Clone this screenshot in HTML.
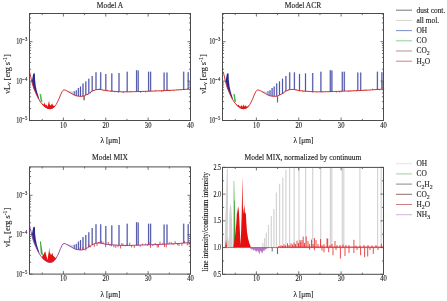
<!DOCTYPE html><html><head><meta charset="utf-8"><style>html,body{margin:0;padding:0;background:#fff;overflow:hidden}svg{display:block;will-change:transform}text{stroke:#1a1a1a;stroke-width:0.12px}</style></head><body><svg width="447" height="301" viewBox="0 0 447 301" font-family='"Liberation Serif", serif' fill="#1a1a1a">
<rect width="447" height="301" fill="#fff" stroke="none"/>
<g transform="translate(0,0)">
<line x1="74.20" y1="95.05" x2="74.20" y2="91.20" stroke="#c4c8e8" stroke-width="1.7"/>
<line x1="74.20" y1="95.05" x2="74.20" y2="91.20" stroke="#2c3090" stroke-width="0.9" stroke-opacity="0.85"/>
<line x1="76.30" y1="95.76" x2="76.30" y2="90.30" stroke="#c4c8e8" stroke-width="1.7"/>
<line x1="76.30" y1="95.76" x2="76.30" y2="90.30" stroke="#2c3090" stroke-width="0.9" stroke-opacity="0.85"/>
<line x1="78.40" y1="96.14" x2="78.40" y2="88.00" stroke="#c4c8e8" stroke-width="1.7"/>
<line x1="78.40" y1="96.14" x2="78.40" y2="88.00" stroke="#2c3090" stroke-width="0.9" stroke-opacity="0.85"/>
<line x1="80.50" y1="96.35" x2="80.50" y2="86.50" stroke="#c4c8e8" stroke-width="1.7"/>
<line x1="80.50" y1="96.35" x2="80.50" y2="86.50" stroke="#2c3090" stroke-width="0.9" stroke-opacity="0.85"/>
<line x1="83.00" y1="96.13" x2="83.00" y2="83.40" stroke="#c4c8e8" stroke-width="1.7"/>
<line x1="83.00" y1="96.13" x2="83.00" y2="83.40" stroke="#2c3090" stroke-width="0.9" stroke-opacity="0.85"/>
<line x1="85.80" y1="95.06" x2="85.80" y2="81.40" stroke="#c4c8e8" stroke-width="1.7"/>
<line x1="85.80" y1="95.06" x2="85.80" y2="81.40" stroke="#2c3090" stroke-width="0.9" stroke-opacity="0.85"/>
<line x1="88.80" y1="93.50" x2="88.80" y2="78.70" stroke="#c4c8e8" stroke-width="1.7"/>
<line x1="88.80" y1="93.50" x2="88.80" y2="78.70" stroke="#2c3090" stroke-width="0.9" stroke-opacity="0.85"/>
<line x1="92.20" y1="91.12" x2="92.20" y2="76.00" stroke="#c4c8e8" stroke-width="1.7"/>
<line x1="92.20" y1="91.12" x2="92.20" y2="76.00" stroke="#2c3090" stroke-width="0.9" stroke-opacity="0.85"/>
<line x1="96.00" y1="89.60" x2="96.00" y2="72.30" stroke="#c4c8e8" stroke-width="1.7"/>
<line x1="96.00" y1="89.60" x2="96.00" y2="72.30" stroke="#2c3090" stroke-width="0.9" stroke-opacity="0.85"/>
<line x1="100.70" y1="89.55" x2="100.70" y2="72.30" stroke="#c4c8e8" stroke-width="1.7"/>
<line x1="100.70" y1="89.55" x2="100.70" y2="72.30" stroke="#2c3090" stroke-width="0.9" stroke-opacity="0.85"/>
<line x1="105.80" y1="90.62" x2="105.80" y2="74.00" stroke="#c4c8e8" stroke-width="1.7"/>
<line x1="105.80" y1="90.62" x2="105.80" y2="74.00" stroke="#2c3090" stroke-width="0.9" stroke-opacity="0.85"/>
<line x1="111.80" y1="91.18" x2="111.80" y2="73.40" stroke="#c4c8e8" stroke-width="1.7"/>
<line x1="111.80" y1="91.18" x2="111.80" y2="73.40" stroke="#2c3090" stroke-width="0.9" stroke-opacity="0.85"/>
<line x1="119.00" y1="91.70" x2="119.00" y2="73.00" stroke="#c4c8e8" stroke-width="1.7"/>
<line x1="119.00" y1="91.70" x2="119.00" y2="73.00" stroke="#2c3090" stroke-width="0.9" stroke-opacity="0.85"/>
<line x1="127.20" y1="91.89" x2="127.20" y2="71.70" stroke="#c4c8e8" stroke-width="1.7"/>
<line x1="127.20" y1="91.89" x2="127.20" y2="71.70" stroke="#2c3090" stroke-width="0.9" stroke-opacity="0.85"/>
<line x1="136.60" y1="91.60" x2="136.60" y2="70.20" stroke="#c4c8e8" stroke-width="1.7"/>
<line x1="136.60" y1="91.60" x2="136.60" y2="70.20" stroke="#2c3090" stroke-width="0.9" stroke-opacity="0.85"/>
<line x1="138.20" y1="91.56" x2="138.20" y2="70.50" stroke="#c4c8e8" stroke-width="1.7"/>
<line x1="138.20" y1="91.56" x2="138.20" y2="70.50" stroke="#2c3090" stroke-width="0.9" stroke-opacity="0.85"/>
<line x1="148.60" y1="91.20" x2="148.60" y2="71.70" stroke="#c4c8e8" stroke-width="1.7"/>
<line x1="148.60" y1="91.20" x2="148.60" y2="71.70" stroke="#2c3090" stroke-width="0.9" stroke-opacity="0.85"/>
<line x1="150.60" y1="91.13" x2="150.60" y2="71.70" stroke="#c4c8e8" stroke-width="1.7"/>
<line x1="150.60" y1="91.13" x2="150.60" y2="71.70" stroke="#2c3090" stroke-width="0.9" stroke-opacity="0.85"/>
<line x1="164.10" y1="90.61" x2="164.10" y2="72.50" stroke="#c4c8e8" stroke-width="1.7"/>
<line x1="164.10" y1="90.61" x2="164.10" y2="72.50" stroke="#2c3090" stroke-width="0.9" stroke-opacity="0.85"/>
<line x1="167.00" y1="90.47" x2="167.00" y2="72.50" stroke="#c4c8e8" stroke-width="1.7"/>
<line x1="167.00" y1="90.47" x2="167.00" y2="72.50" stroke="#2c3090" stroke-width="0.9" stroke-opacity="0.85"/>
<line x1="183.70" y1="89.48" x2="183.70" y2="71.70" stroke="#c4c8e8" stroke-width="1.7"/>
<line x1="183.70" y1="89.48" x2="183.70" y2="71.70" stroke="#2c3090" stroke-width="0.9" stroke-opacity="0.85"/>
<line x1="188.20" y1="89.16" x2="188.20" y2="72.20" stroke="#c4c8e8" stroke-width="1.7"/>
<line x1="188.20" y1="89.16" x2="188.20" y2="72.20" stroke="#2c3090" stroke-width="0.9" stroke-opacity="0.85"/>
<path d="M66,90.46 L70,91.15 L74,91.93 L74,94.93 L70,92.65 Z" fill="#b8c8ee" fill-opacity="0.8"/>
<path d="M31.9,81 L32.6,77 L33.2,74 L34,73.2 L34.9,73.4 L35.1,80 L35.8,86 L36.8,91 L38.5,96.5 L39.5,99.5 L38,98 L35.5,92.5 L33.6,88 L32.4,83.5 Z" fill="#2a2a8e"/>
<path d="M40.6,101.2 L39.6,93.8 L41.1,94.2 L42.5,102.5 Z" fill="#4cb84c"/>
<path d="M42.50,103.60 L43.50,104.80 L44.80,102.80 L45.60,105.50 L46.50,104.60 L47.30,106.80 L48.20,104.20 L49.00,100.70 L49.70,104.50 L50.50,105.60 L51.30,104.80 L52.10,103.30 L53.00,105.60 L54.00,106.00 L55.20,106.00 L56.00,105.30 L55.00,106.45 L54.00,107.60 L52.00,108.87 L50.00,109.14 L48.00,108.90 L46.00,107.90 L44.00,106.40 L42.00,104.47 Z" fill="#e81010"/>
<path d="M29.60,71.80 L30.30,75.00 L31.00,78.00 L32.20,83.00 L33.60,88.00 L35.50,92.50 L38.00,98.00 L41.10,103.00 L44.00,105.80 L46.00,107.30 L48.00,108.30 L50.50,108.60 L52.30,108.20 L54.00,107.00 L56.00,104.70 L57.50,102.00 L59.00,98.80 L60.50,95.00 L62.00,91.80 L63.00,90.40 L64.00,89.90 L65.50,90.20 L68.00,91.50 L72.00,93.80 L75.00,95.50 L78.00,96.10 L81.00,96.40 L84.00,96.00 L88.80,93.50 L92.00,91.20 L96.00,89.60 L100.00,89.40 L105.60,90.60 L112.00,91.20 L119.00,91.70 L127.00,91.90 L140.00,91.50 L160.00,90.80 L175.00,90.10 L190.50,89.00" fill="none" stroke="#d42020" stroke-width="0.9"/>
<line x1="84.1" y1="95.95" x2="84.1" y2="100.2" stroke="#5a3a30" stroke-width="1.1"/>
<line x1="86.00" y1="94.96" x2="86.00" y2="94.96" stroke="#d02020" stroke-width="0.8" stroke-opacity="0.8"/>
<line x1="87.85" y1="94.00" x2="87.85" y2="95.05" stroke="#202070" stroke-width="0.8" stroke-opacity="0.8"/>
<line x1="90.60" y1="92.20" x2="90.60" y2="93.34" stroke="#202070" stroke-width="0.8" stroke-opacity="0.8"/>
<line x1="93.49" y1="90.60" x2="93.49" y2="91.01" stroke="#202070" stroke-width="0.8" stroke-opacity="0.8"/>
<line x1="95.94" y1="89.63" x2="95.94" y2="90.25" stroke="#d02020" stroke-width="0.8" stroke-opacity="0.8"/>
<line x1="99.25" y1="89.44" x2="99.25" y2="88.65" stroke="#202070" stroke-width="0.8" stroke-opacity="0.8"/>
<line x1="101.03" y1="89.62" x2="101.03" y2="89.74" stroke="#d02020" stroke-width="0.8" stroke-opacity="0.8"/>
<line x1="104.00" y1="90.26" x2="104.00" y2="91.07" stroke="#d02020" stroke-width="0.8" stroke-opacity="0.8"/>
<line x1="107.37" y1="90.77" x2="107.37" y2="89.83" stroke="#202070" stroke-width="0.8" stroke-opacity="0.8"/>
<line x1="110.55" y1="91.06" x2="110.55" y2="91.75" stroke="#d02020" stroke-width="0.8" stroke-opacity="0.8"/>
<line x1="112.27" y1="91.22" x2="112.27" y2="90.71" stroke="#202070" stroke-width="0.8" stroke-opacity="0.8"/>
<line x1="114.48" y1="91.38" x2="114.48" y2="92.28" stroke="#202070" stroke-width="0.8" stroke-opacity="0.8"/>
<line x1="118.19" y1="91.64" x2="118.19" y2="92.73" stroke="#202070" stroke-width="0.8" stroke-opacity="0.8"/>
<line x1="120.64" y1="91.74" x2="120.64" y2="91.82" stroke="#202070" stroke-width="0.8" stroke-opacity="0.8"/>
<line x1="123.20" y1="91.81" x2="123.20" y2="92.96" stroke="#202070" stroke-width="0.8" stroke-opacity="0.8"/>
<line x1="126.19" y1="91.88" x2="126.19" y2="91.00" stroke="#d02020" stroke-width="0.8" stroke-opacity="0.8"/>
<line x1="129.93" y1="91.81" x2="129.93" y2="91.14" stroke="#202070" stroke-width="0.8" stroke-opacity="0.8"/>
<line x1="131.64" y1="91.76" x2="131.64" y2="91.96" stroke="#202070" stroke-width="0.8" stroke-opacity="0.8"/>
<line x1="133.35" y1="91.70" x2="133.35" y2="91.80" stroke="#d02020" stroke-width="0.8" stroke-opacity="0.8"/>
<line x1="135.90" y1="91.63" x2="135.90" y2="91.46" stroke="#d02020" stroke-width="0.8" stroke-opacity="0.8"/>
<line x1="137.64" y1="91.57" x2="137.64" y2="91.88" stroke="#202070" stroke-width="0.8" stroke-opacity="0.8"/>
<line x1="140.66" y1="91.48" x2="140.66" y2="92.77" stroke="#202070" stroke-width="0.8" stroke-opacity="0.8"/>
<line x1="143.55" y1="91.38" x2="143.55" y2="91.75" stroke="#202070" stroke-width="0.8" stroke-opacity="0.8"/>
<line x1="145.72" y1="91.30" x2="145.72" y2="92.69" stroke="#d02020" stroke-width="0.8" stroke-opacity="0.8"/>
<line x1="147.52" y1="91.24" x2="147.52" y2="91.87" stroke="#d02020" stroke-width="0.8" stroke-opacity="0.8"/>
<line x1="149.61" y1="91.16" x2="149.61" y2="91.55" stroke="#202070" stroke-width="0.8" stroke-opacity="0.8"/>
<line x1="152.03" y1="91.08" x2="152.03" y2="91.63" stroke="#d02020" stroke-width="0.8" stroke-opacity="0.8"/>
<line x1="155.46" y1="90.96" x2="155.46" y2="89.98" stroke="#d02020" stroke-width="0.8" stroke-opacity="0.8"/>
<line x1="159.12" y1="90.83" x2="159.12" y2="91.15" stroke="#d02020" stroke-width="0.8" stroke-opacity="0.8"/>
<line x1="161.63" y1="90.72" x2="161.63" y2="92.09" stroke="#d02020" stroke-width="0.8" stroke-opacity="0.8"/>
<line x1="163.17" y1="90.65" x2="163.17" y2="91.53" stroke="#d02020" stroke-width="0.8" stroke-opacity="0.8"/>
<line x1="165.76" y1="90.53" x2="165.76" y2="89.89" stroke="#d02020" stroke-width="0.8" stroke-opacity="0.8"/>
<line x1="168.07" y1="90.42" x2="168.07" y2="89.45" stroke="#d02020" stroke-width="0.8" stroke-opacity="0.8"/>
<line x1="169.83" y1="90.34" x2="169.83" y2="91.18" stroke="#202070" stroke-width="0.8" stroke-opacity="0.8"/>
<line x1="173.28" y1="90.18" x2="173.28" y2="91.08" stroke="#d02020" stroke-width="0.8" stroke-opacity="0.8"/>
<line x1="176.55" y1="89.99" x2="176.55" y2="89.44" stroke="#d02020" stroke-width="0.8" stroke-opacity="0.8"/>
<line x1="179.12" y1="89.81" x2="179.12" y2="89.21" stroke="#d02020" stroke-width="0.8" stroke-opacity="0.8"/>
<line x1="181.62" y1="89.63" x2="181.62" y2="89.40" stroke="#d02020" stroke-width="0.8" stroke-opacity="0.8"/>
<line x1="184.04" y1="89.46" x2="184.04" y2="89.99" stroke="#202070" stroke-width="0.8" stroke-opacity="0.8"/>
<line x1="187.65" y1="89.20" x2="187.65" y2="88.68" stroke="#202070" stroke-width="0.8" stroke-opacity="0.8"/>
</g>
<g transform="translate(193.7,0)">
<line x1="74.20" y1="95.05" x2="74.20" y2="91.20" stroke="#c4c8e8" stroke-width="1.7"/>
<line x1="74.20" y1="95.05" x2="74.20" y2="91.20" stroke="#2c3090" stroke-width="0.9" stroke-opacity="0.85"/>
<line x1="76.30" y1="95.76" x2="76.30" y2="90.30" stroke="#c4c8e8" stroke-width="1.7"/>
<line x1="76.30" y1="95.76" x2="76.30" y2="90.30" stroke="#2c3090" stroke-width="0.9" stroke-opacity="0.85"/>
<line x1="78.40" y1="96.14" x2="78.40" y2="88.00" stroke="#c4c8e8" stroke-width="1.7"/>
<line x1="78.40" y1="96.14" x2="78.40" y2="88.00" stroke="#2c3090" stroke-width="0.9" stroke-opacity="0.85"/>
<line x1="80.50" y1="96.35" x2="80.50" y2="86.50" stroke="#c4c8e8" stroke-width="1.7"/>
<line x1="80.50" y1="96.35" x2="80.50" y2="86.50" stroke="#2c3090" stroke-width="0.9" stroke-opacity="0.85"/>
<line x1="83.00" y1="96.13" x2="83.00" y2="83.40" stroke="#c4c8e8" stroke-width="1.7"/>
<line x1="83.00" y1="96.13" x2="83.00" y2="83.40" stroke="#2c3090" stroke-width="0.9" stroke-opacity="0.85"/>
<line x1="85.80" y1="95.06" x2="85.80" y2="81.40" stroke="#c4c8e8" stroke-width="1.7"/>
<line x1="85.80" y1="95.06" x2="85.80" y2="81.40" stroke="#2c3090" stroke-width="0.9" stroke-opacity="0.85"/>
<line x1="88.80" y1="93.50" x2="88.80" y2="78.70" stroke="#c4c8e8" stroke-width="1.7"/>
<line x1="88.80" y1="93.50" x2="88.80" y2="78.70" stroke="#2c3090" stroke-width="0.9" stroke-opacity="0.85"/>
<line x1="92.20" y1="91.12" x2="92.20" y2="76.00" stroke="#c4c8e8" stroke-width="1.7"/>
<line x1="92.20" y1="91.12" x2="92.20" y2="76.00" stroke="#2c3090" stroke-width="0.9" stroke-opacity="0.85"/>
<line x1="96.00" y1="89.60" x2="96.00" y2="72.30" stroke="#c4c8e8" stroke-width="1.7"/>
<line x1="96.00" y1="89.60" x2="96.00" y2="72.30" stroke="#2c3090" stroke-width="0.9" stroke-opacity="0.85"/>
<line x1="100.70" y1="89.55" x2="100.70" y2="72.30" stroke="#c4c8e8" stroke-width="1.7"/>
<line x1="100.70" y1="89.55" x2="100.70" y2="72.30" stroke="#2c3090" stroke-width="0.9" stroke-opacity="0.85"/>
<line x1="105.80" y1="90.62" x2="105.80" y2="74.00" stroke="#c4c8e8" stroke-width="1.7"/>
<line x1="105.80" y1="90.62" x2="105.80" y2="74.00" stroke="#2c3090" stroke-width="0.9" stroke-opacity="0.85"/>
<line x1="111.80" y1="91.18" x2="111.80" y2="73.40" stroke="#c4c8e8" stroke-width="1.7"/>
<line x1="111.80" y1="91.18" x2="111.80" y2="73.40" stroke="#2c3090" stroke-width="0.9" stroke-opacity="0.85"/>
<line x1="119.00" y1="91.70" x2="119.00" y2="73.00" stroke="#c4c8e8" stroke-width="1.7"/>
<line x1="119.00" y1="91.70" x2="119.00" y2="73.00" stroke="#2c3090" stroke-width="0.9" stroke-opacity="0.85"/>
<line x1="127.20" y1="91.89" x2="127.20" y2="71.70" stroke="#c4c8e8" stroke-width="1.7"/>
<line x1="127.20" y1="91.89" x2="127.20" y2="71.70" stroke="#2c3090" stroke-width="0.9" stroke-opacity="0.85"/>
<line x1="136.60" y1="91.60" x2="136.60" y2="70.20" stroke="#c4c8e8" stroke-width="1.7"/>
<line x1="136.60" y1="91.60" x2="136.60" y2="70.20" stroke="#2c3090" stroke-width="0.9" stroke-opacity="0.85"/>
<line x1="138.20" y1="91.56" x2="138.20" y2="70.50" stroke="#c4c8e8" stroke-width="1.7"/>
<line x1="138.20" y1="91.56" x2="138.20" y2="70.50" stroke="#2c3090" stroke-width="0.9" stroke-opacity="0.85"/>
<line x1="148.60" y1="91.20" x2="148.60" y2="71.70" stroke="#c4c8e8" stroke-width="1.7"/>
<line x1="148.60" y1="91.20" x2="148.60" y2="71.70" stroke="#2c3090" stroke-width="0.9" stroke-opacity="0.85"/>
<line x1="150.60" y1="91.13" x2="150.60" y2="71.70" stroke="#c4c8e8" stroke-width="1.7"/>
<line x1="150.60" y1="91.13" x2="150.60" y2="71.70" stroke="#2c3090" stroke-width="0.9" stroke-opacity="0.85"/>
<line x1="164.10" y1="90.61" x2="164.10" y2="72.50" stroke="#c4c8e8" stroke-width="1.7"/>
<line x1="164.10" y1="90.61" x2="164.10" y2="72.50" stroke="#2c3090" stroke-width="0.9" stroke-opacity="0.85"/>
<line x1="167.00" y1="90.47" x2="167.00" y2="72.50" stroke="#c4c8e8" stroke-width="1.7"/>
<line x1="167.00" y1="90.47" x2="167.00" y2="72.50" stroke="#2c3090" stroke-width="0.9" stroke-opacity="0.85"/>
<line x1="183.70" y1="89.48" x2="183.70" y2="71.70" stroke="#c4c8e8" stroke-width="1.7"/>
<line x1="183.70" y1="89.48" x2="183.70" y2="71.70" stroke="#2c3090" stroke-width="0.9" stroke-opacity="0.85"/>
<line x1="188.20" y1="89.16" x2="188.20" y2="72.20" stroke="#c4c8e8" stroke-width="1.7"/>
<line x1="188.20" y1="89.16" x2="188.20" y2="72.20" stroke="#2c3090" stroke-width="0.9" stroke-opacity="0.85"/>
<path d="M66,90.46 L70,91.15 L74,91.93 L74,94.93 L70,92.65 Z" fill="#b8c8ee" fill-opacity="0.8"/>
<path d="M31.9,81 L32.6,77 L33.2,74 L34,73.2 L34.9,73.4 L35.1,80 L35.8,86 L36.8,91 L38.5,96.5 L39.5,99.5 L38,98 L35.5,92.5 L33.6,88 L32.4,83.5 Z" fill="#2a2a8e"/>
<path d="M40.6,101.2 L39.6,93.8 L41.1,94.2 L42.5,102.5 Z" fill="#4cb84c"/>
<path d="M42.50,104.20 L44.00,105.80 L45.00,104.60 L46.00,106.60 L47.00,106.50 L48.00,105.00 L49.00,107.00 L50.00,104.20 L51.00,106.80 L52.00,105.20 L53.00,106.80 L54.50,106.50 L55.50,105.30 L56.00,105.30 L55.00,106.45 L54.00,107.60 L52.00,108.87 L50.00,109.14 L48.00,108.90 L46.00,107.90 L44.00,106.40 L42.00,104.47 Z" fill="#e81010"/>
<path d="M29.60,71.80 L30.30,75.00 L31.00,78.00 L32.20,83.00 L33.60,88.00 L35.50,92.50 L38.00,98.00 L41.10,103.00 L44.00,105.80 L46.00,107.30 L48.00,108.30 L50.50,108.60 L52.30,108.20 L54.00,107.00 L56.00,104.70 L57.50,102.00 L59.00,98.80 L60.50,95.00 L62.00,91.80 L63.00,90.40 L64.00,89.90 L65.50,90.20 L68.00,91.50 L72.00,93.80 L75.00,95.50 L78.00,96.10 L81.00,96.40 L84.00,96.00 L88.80,93.50 L92.00,91.20 L96.00,89.60 L100.00,89.40 L105.60,90.60 L112.00,91.20 L119.00,91.70 L127.00,91.90 L140.00,91.50 L160.00,90.80 L175.00,90.10 L190.50,89.00" fill="none" stroke="#d42020" stroke-width="0.9"/>
<line x1="83.8" y1="96.03" x2="83.8" y2="102.5" stroke="#806060" stroke-width="1.2"/>
<line x1="86.00" y1="94.96" x2="86.00" y2="94.43" stroke="#d02020" stroke-width="0.8" stroke-opacity="0.8"/>
<line x1="89.21" y1="93.21" x2="89.21" y2="94.21" stroke="#202070" stroke-width="0.8" stroke-opacity="0.8"/>
<line x1="91.29" y1="91.71" x2="91.29" y2="90.90" stroke="#202070" stroke-width="0.8" stroke-opacity="0.8"/>
<line x1="94.62" y1="90.15" x2="94.62" y2="89.29" stroke="#d02020" stroke-width="0.8" stroke-opacity="0.8"/>
<line x1="96.66" y1="89.57" x2="96.66" y2="89.13" stroke="#d02020" stroke-width="0.8" stroke-opacity="0.8"/>
<line x1="100.25" y1="89.45" x2="100.25" y2="89.84" stroke="#202070" stroke-width="0.8" stroke-opacity="0.8"/>
<line x1="102.44" y1="89.92" x2="102.44" y2="89.10" stroke="#d02020" stroke-width="0.8" stroke-opacity="0.8"/>
<line x1="105.96" y1="90.63" x2="105.96" y2="91.53" stroke="#d02020" stroke-width="0.8" stroke-opacity="0.8"/>
<line x1="109.33" y1="90.95" x2="109.33" y2="92.22" stroke="#d02020" stroke-width="0.8" stroke-opacity="0.8"/>
<line x1="111.47" y1="91.15" x2="111.47" y2="92.16" stroke="#d02020" stroke-width="0.8" stroke-opacity="0.8"/>
<line x1="114.86" y1="91.40" x2="114.86" y2="91.67" stroke="#d02020" stroke-width="0.8" stroke-opacity="0.8"/>
<line x1="117.27" y1="91.58" x2="117.27" y2="91.49" stroke="#d02020" stroke-width="0.8" stroke-opacity="0.8"/>
<line x1="119.06" y1="91.70" x2="119.06" y2="92.63" stroke="#d02020" stroke-width="0.8" stroke-opacity="0.8"/>
<line x1="123.02" y1="91.80" x2="123.02" y2="92.40" stroke="#d02020" stroke-width="0.8" stroke-opacity="0.8"/>
<line x1="126.39" y1="91.88" x2="126.39" y2="91.04" stroke="#d02020" stroke-width="0.8" stroke-opacity="0.8"/>
<line x1="129.00" y1="91.84" x2="129.00" y2="91.10" stroke="#202070" stroke-width="0.8" stroke-opacity="0.8"/>
<line x1="131.81" y1="91.75" x2="131.81" y2="91.21" stroke="#d02020" stroke-width="0.8" stroke-opacity="0.8"/>
<line x1="134.82" y1="91.66" x2="134.82" y2="91.49" stroke="#202070" stroke-width="0.8" stroke-opacity="0.8"/>
<line x1="137.55" y1="91.58" x2="137.55" y2="90.99" stroke="#202070" stroke-width="0.8" stroke-opacity="0.8"/>
<line x1="139.54" y1="91.51" x2="139.54" y2="91.27" stroke="#202070" stroke-width="0.8" stroke-opacity="0.8"/>
<line x1="142.67" y1="91.41" x2="142.67" y2="92.69" stroke="#d02020" stroke-width="0.8" stroke-opacity="0.8"/>
<line x1="145.96" y1="91.29" x2="145.96" y2="92.52" stroke="#202070" stroke-width="0.8" stroke-opacity="0.8"/>
<line x1="147.82" y1="91.23" x2="147.82" y2="92.12" stroke="#d02020" stroke-width="0.8" stroke-opacity="0.8"/>
<line x1="150.91" y1="91.12" x2="150.91" y2="90.33" stroke="#d02020" stroke-width="0.8" stroke-opacity="0.8"/>
<line x1="154.58" y1="90.99" x2="154.58" y2="92.09" stroke="#d02020" stroke-width="0.8" stroke-opacity="0.8"/>
<line x1="156.59" y1="90.92" x2="156.59" y2="91.94" stroke="#d02020" stroke-width="0.8" stroke-opacity="0.8"/>
<line x1="159.88" y1="90.80" x2="159.88" y2="89.96" stroke="#d02020" stroke-width="0.8" stroke-opacity="0.8"/>
<line x1="162.89" y1="90.67" x2="162.89" y2="91.34" stroke="#202070" stroke-width="0.8" stroke-opacity="0.8"/>
<line x1="165.94" y1="90.52" x2="165.94" y2="90.83" stroke="#d02020" stroke-width="0.8" stroke-opacity="0.8"/>
<line x1="168.33" y1="90.41" x2="168.33" y2="91.10" stroke="#d02020" stroke-width="0.8" stroke-opacity="0.8"/>
<line x1="170.57" y1="90.31" x2="170.57" y2="89.53" stroke="#d02020" stroke-width="0.8" stroke-opacity="0.8"/>
<line x1="172.35" y1="90.22" x2="172.35" y2="89.61" stroke="#202070" stroke-width="0.8" stroke-opacity="0.8"/>
<line x1="175.46" y1="90.07" x2="175.46" y2="90.31" stroke="#d02020" stroke-width="0.8" stroke-opacity="0.8"/>
<line x1="177.06" y1="89.95" x2="177.06" y2="89.90" stroke="#d02020" stroke-width="0.8" stroke-opacity="0.8"/>
<line x1="178.79" y1="89.83" x2="178.79" y2="88.64" stroke="#d02020" stroke-width="0.8" stroke-opacity="0.8"/>
<line x1="180.59" y1="89.70" x2="180.59" y2="89.29" stroke="#202070" stroke-width="0.8" stroke-opacity="0.8"/>
<line x1="183.59" y1="89.49" x2="183.59" y2="88.49" stroke="#d02020" stroke-width="0.8" stroke-opacity="0.8"/>
<line x1="186.00" y1="89.32" x2="186.00" y2="90.29" stroke="#202070" stroke-width="0.8" stroke-opacity="0.8"/>
<line x1="188.34" y1="89.15" x2="188.34" y2="89.24" stroke="#d02020" stroke-width="0.8" stroke-opacity="0.8"/>
</g>
<g transform="translate(0,153.6)">
<line x1="74.20" y1="95.05" x2="74.20" y2="91.20" stroke="#c4c8e8" stroke-width="1.7"/>
<line x1="74.20" y1="95.05" x2="74.20" y2="91.20" stroke="#2c3090" stroke-width="0.9" stroke-opacity="0.85"/>
<line x1="76.30" y1="95.76" x2="76.30" y2="90.30" stroke="#c4c8e8" stroke-width="1.7"/>
<line x1="76.30" y1="95.76" x2="76.30" y2="90.30" stroke="#2c3090" stroke-width="0.9" stroke-opacity="0.85"/>
<line x1="78.40" y1="96.14" x2="78.40" y2="88.00" stroke="#c4c8e8" stroke-width="1.7"/>
<line x1="78.40" y1="96.14" x2="78.40" y2="88.00" stroke="#2c3090" stroke-width="0.9" stroke-opacity="0.85"/>
<line x1="80.50" y1="96.35" x2="80.50" y2="86.50" stroke="#c4c8e8" stroke-width="1.7"/>
<line x1="80.50" y1="96.35" x2="80.50" y2="86.50" stroke="#2c3090" stroke-width="0.9" stroke-opacity="0.85"/>
<line x1="83.00" y1="96.13" x2="83.00" y2="83.40" stroke="#c4c8e8" stroke-width="1.7"/>
<line x1="83.00" y1="96.13" x2="83.00" y2="83.40" stroke="#2c3090" stroke-width="0.9" stroke-opacity="0.85"/>
<line x1="85.80" y1="95.06" x2="85.80" y2="81.40" stroke="#c4c8e8" stroke-width="1.7"/>
<line x1="85.80" y1="95.06" x2="85.80" y2="81.40" stroke="#2c3090" stroke-width="0.9" stroke-opacity="0.85"/>
<line x1="88.80" y1="93.50" x2="88.80" y2="78.70" stroke="#c4c8e8" stroke-width="1.7"/>
<line x1="88.80" y1="93.50" x2="88.80" y2="78.70" stroke="#2c3090" stroke-width="0.9" stroke-opacity="0.85"/>
<line x1="92.20" y1="91.12" x2="92.20" y2="74.40" stroke="#c4c8e8" stroke-width="1.7"/>
<line x1="92.20" y1="91.12" x2="92.20" y2="74.40" stroke="#2c3090" stroke-width="0.9" stroke-opacity="0.85"/>
<line x1="96.00" y1="89.60" x2="96.00" y2="70.70" stroke="#c4c8e8" stroke-width="1.7"/>
<line x1="96.00" y1="89.60" x2="96.00" y2="70.70" stroke="#2c3090" stroke-width="0.9" stroke-opacity="0.85"/>
<line x1="100.70" y1="89.55" x2="100.70" y2="70.70" stroke="#c4c8e8" stroke-width="1.7"/>
<line x1="100.70" y1="89.55" x2="100.70" y2="70.70" stroke="#2c3090" stroke-width="0.9" stroke-opacity="0.85"/>
<line x1="105.80" y1="90.62" x2="105.80" y2="72.40" stroke="#c4c8e8" stroke-width="1.7"/>
<line x1="105.80" y1="90.62" x2="105.80" y2="72.40" stroke="#2c3090" stroke-width="0.9" stroke-opacity="0.85"/>
<line x1="111.80" y1="91.18" x2="111.80" y2="71.80" stroke="#c4c8e8" stroke-width="1.7"/>
<line x1="111.80" y1="91.18" x2="111.80" y2="71.80" stroke="#2c3090" stroke-width="0.9" stroke-opacity="0.85"/>
<line x1="119.00" y1="91.70" x2="119.00" y2="71.40" stroke="#c4c8e8" stroke-width="1.7"/>
<line x1="119.00" y1="91.70" x2="119.00" y2="71.40" stroke="#2c3090" stroke-width="0.9" stroke-opacity="0.85"/>
<line x1="127.20" y1="91.89" x2="127.20" y2="70.10" stroke="#c4c8e8" stroke-width="1.7"/>
<line x1="127.20" y1="91.89" x2="127.20" y2="70.10" stroke="#2c3090" stroke-width="0.9" stroke-opacity="0.85"/>
<line x1="136.60" y1="91.60" x2="136.60" y2="68.60" stroke="#c4c8e8" stroke-width="1.7"/>
<line x1="136.60" y1="91.60" x2="136.60" y2="68.60" stroke="#2c3090" stroke-width="0.9" stroke-opacity="0.85"/>
<line x1="138.20" y1="91.56" x2="138.20" y2="68.90" stroke="#c4c8e8" stroke-width="1.7"/>
<line x1="138.20" y1="91.56" x2="138.20" y2="68.90" stroke="#2c3090" stroke-width="0.9" stroke-opacity="0.85"/>
<line x1="148.60" y1="91.20" x2="148.60" y2="70.10" stroke="#c4c8e8" stroke-width="1.7"/>
<line x1="148.60" y1="91.20" x2="148.60" y2="70.10" stroke="#2c3090" stroke-width="0.9" stroke-opacity="0.85"/>
<line x1="150.60" y1="91.13" x2="150.60" y2="70.10" stroke="#c4c8e8" stroke-width="1.7"/>
<line x1="150.60" y1="91.13" x2="150.60" y2="70.10" stroke="#2c3090" stroke-width="0.9" stroke-opacity="0.85"/>
<line x1="164.10" y1="90.61" x2="164.10" y2="70.90" stroke="#c4c8e8" stroke-width="1.7"/>
<line x1="164.10" y1="90.61" x2="164.10" y2="70.90" stroke="#2c3090" stroke-width="0.9" stroke-opacity="0.85"/>
<line x1="167.00" y1="90.47" x2="167.00" y2="70.90" stroke="#c4c8e8" stroke-width="1.7"/>
<line x1="167.00" y1="90.47" x2="167.00" y2="70.90" stroke="#2c3090" stroke-width="0.9" stroke-opacity="0.85"/>
<line x1="183.70" y1="89.48" x2="183.70" y2="70.10" stroke="#c4c8e8" stroke-width="1.7"/>
<line x1="183.70" y1="89.48" x2="183.70" y2="70.10" stroke="#2c3090" stroke-width="0.9" stroke-opacity="0.85"/>
<line x1="188.20" y1="89.16" x2="188.20" y2="70.60" stroke="#c4c8e8" stroke-width="1.7"/>
<line x1="188.20" y1="89.16" x2="188.20" y2="70.60" stroke="#2c3090" stroke-width="0.9" stroke-opacity="0.85"/>
<path d="M66,90.46 L70,91.15 L74,91.93 L74,94.93 L70,92.65 Z" fill="#b8c8ee" fill-opacity="0.8"/>
<path d="M31.9,81 L32.6,77 L33.2,74 L34,73.2 L34.9,73.4 L35.1,80 L35.8,86 L36.8,91 L38.5,96.5 L39.5,99.5 L38,98 L35.5,92.5 L33.6,88 L32.4,83.5 Z" fill="#2a2a8e"/>
<path d="M40.8,100.5 L39.9,87.6 L40.9,88 L43,102 Z" fill="#3aa83a"/>
<path d="M42.30,102.50 L43.50,101.00 L44.50,99.00 L45.20,97.60 L45.90,100.50 L46.60,103.00 L47.50,106.50 L48.30,101.00 L48.80,98.50 L49.20,93.60 L49.60,98.50 L50.30,100.00 L51.00,101.50 L51.80,100.50 L52.30,99.00 L53.00,102.00 L54.00,103.00 L55.00,104.00 L56.00,104.70 L56.00,105.30 L55.00,106.45 L54.00,107.60 L52.00,108.87 L50.00,109.14 L48.00,108.90 L46.00,107.90 L44.00,106.40 L42.00,104.47 Z" fill="#e81010"/>
<path d="M29.60,71.80 L30.30,75.00 L31.00,78.00 L32.20,83.00 L33.60,88.00 L35.50,92.50 L38.00,98.00 L41.10,103.00 L44.00,105.80 L46.00,107.30 L48.00,108.30 L50.50,108.60 L52.30,108.20 L54.00,107.00 L56.00,104.70 L57.50,102.00 L59.00,98.80 L60.50,95.00 L62.00,91.80 L63.00,90.40 L64.00,89.90 L65.50,90.20 L68.00,91.50 L72.00,93.80 L75.00,95.50 L78.00,96.10 L81.00,96.40 L84.00,96.00 L88.80,93.50 L92.00,91.20 L96.00,89.60 L100.00,89.40 L105.60,90.60 L112.00,91.20 L119.00,91.70 L127.00,91.90 L140.00,91.50 L160.00,90.80 L175.00,90.10 L190.50,89.00" fill="none" stroke="#8a3a9a" stroke-width="0.9"/>
<line x1="80.00" y1="96.30" x2="80.00" y2="94.02" stroke="#e42020" stroke-width="0.9" stroke-opacity="0.85"/>
<line x1="82.79" y1="96.16" x2="82.79" y2="93.88" stroke="#e42020" stroke-width="0.9" stroke-opacity="0.85"/>
<line x1="85.84" y1="95.04" x2="85.84" y2="96.96" stroke="#e42020" stroke-width="0.9" stroke-opacity="0.85"/>
<line x1="88.92" y1="93.41" x2="88.92" y2="90.81" stroke="#e42020" stroke-width="0.9" stroke-opacity="0.85"/>
<line x1="90.35" y1="92.39" x2="90.35" y2="93.78" stroke="#e42020" stroke-width="0.9" stroke-opacity="0.85"/>
<line x1="92.64" y1="90.95" x2="92.64" y2="90.12" stroke="#e42020" stroke-width="0.9" stroke-opacity="0.85"/>
<line x1="94.27" y1="90.29" x2="94.27" y2="93.29" stroke="#e42020" stroke-width="0.9" stroke-opacity="0.85"/>
<line x1="97.00" y1="89.55" x2="97.00" y2="92.26" stroke="#e42020" stroke-width="0.9" stroke-opacity="0.85"/>
<line x1="98.48" y1="89.48" x2="98.48" y2="88.42" stroke="#e42020" stroke-width="0.9" stroke-opacity="0.85"/>
<line x1="99.68" y1="89.42" x2="99.68" y2="88.20" stroke="#e42020" stroke-width="0.9" stroke-opacity="0.85"/>
<line x1="101.31" y1="89.68" x2="101.31" y2="87.14" stroke="#e42020" stroke-width="0.9" stroke-opacity="0.85"/>
<line x1="103.09" y1="90.06" x2="103.09" y2="88.18" stroke="#e42020" stroke-width="0.9" stroke-opacity="0.85"/>
<line x1="105.65" y1="90.60" x2="105.65" y2="93.66" stroke="#e42020" stroke-width="0.9" stroke-opacity="0.85"/>
<line x1="108.23" y1="90.85" x2="108.23" y2="88.26" stroke="#e42020" stroke-width="0.9" stroke-opacity="0.85"/>
<line x1="110.03" y1="91.01" x2="110.03" y2="92.21" stroke="#e42020" stroke-width="0.9" stroke-opacity="0.85"/>
<line x1="111.52" y1="91.15" x2="111.52" y2="92.68" stroke="#e42020" stroke-width="0.9" stroke-opacity="0.85"/>
<line x1="113.92" y1="91.34" x2="113.92" y2="93.76" stroke="#e42020" stroke-width="0.9" stroke-opacity="0.85"/>
<line x1="115.80" y1="91.47" x2="115.80" y2="94.24" stroke="#e42020" stroke-width="0.9" stroke-opacity="0.85"/>
<line x1="117.96" y1="91.63" x2="117.96" y2="93.58" stroke="#e42020" stroke-width="0.9" stroke-opacity="0.85"/>
<line x1="120.57" y1="91.74" x2="120.57" y2="94.88" stroke="#e42020" stroke-width="0.9" stroke-opacity="0.85"/>
<line x1="121.82" y1="91.77" x2="121.82" y2="89.28" stroke="#e42020" stroke-width="0.9" stroke-opacity="0.85"/>
<line x1="123.05" y1="91.80" x2="123.05" y2="90.27" stroke="#e42020" stroke-width="0.9" stroke-opacity="0.85"/>
<line x1="125.41" y1="91.86" x2="125.41" y2="92.77" stroke="#e42020" stroke-width="0.9" stroke-opacity="0.85"/>
<line x1="126.97" y1="91.90" x2="126.97" y2="90.71" stroke="#e42020" stroke-width="0.9" stroke-opacity="0.85"/>
<line x1="129.68" y1="91.82" x2="129.68" y2="89.13" stroke="#e42020" stroke-width="0.9" stroke-opacity="0.85"/>
<line x1="131.57" y1="91.76" x2="131.57" y2="93.82" stroke="#e42020" stroke-width="0.9" stroke-opacity="0.85"/>
<line x1="134.32" y1="91.67" x2="134.32" y2="94.27" stroke="#e42020" stroke-width="0.9" stroke-opacity="0.85"/>
<line x1="137.12" y1="91.59" x2="137.12" y2="90.72" stroke="#e42020" stroke-width="0.9" stroke-opacity="0.85"/>
<line x1="140.21" y1="91.49" x2="140.21" y2="93.11" stroke="#e42020" stroke-width="0.9" stroke-opacity="0.85"/>
<line x1="142.63" y1="91.41" x2="142.63" y2="89.93" stroke="#e42020" stroke-width="0.9" stroke-opacity="0.85"/>
<line x1="145.68" y1="91.30" x2="145.68" y2="89.88" stroke="#e42020" stroke-width="0.9" stroke-opacity="0.85"/>
<line x1="147.51" y1="91.24" x2="147.51" y2="92.22" stroke="#e42020" stroke-width="0.9" stroke-opacity="0.85"/>
<line x1="149.01" y1="91.18" x2="149.01" y2="88.39" stroke="#e42020" stroke-width="0.9" stroke-opacity="0.85"/>
<line x1="150.53" y1="91.13" x2="150.53" y2="94.30" stroke="#e42020" stroke-width="0.9" stroke-opacity="0.85"/>
<line x1="152.80" y1="91.05" x2="152.80" y2="92.42" stroke="#e42020" stroke-width="0.9" stroke-opacity="0.85"/>
<line x1="155.19" y1="90.97" x2="155.19" y2="89.26" stroke="#e42020" stroke-width="0.9" stroke-opacity="0.85"/>
<line x1="157.23" y1="90.90" x2="157.23" y2="93.90" stroke="#e42020" stroke-width="0.9" stroke-opacity="0.85"/>
<line x1="158.50" y1="90.85" x2="158.50" y2="93.66" stroke="#e42020" stroke-width="0.9" stroke-opacity="0.85"/>
<line x1="159.96" y1="90.80" x2="159.96" y2="88.10" stroke="#e42020" stroke-width="0.9" stroke-opacity="0.85"/>
<line x1="162.42" y1="90.69" x2="162.42" y2="89.67" stroke="#e42020" stroke-width="0.9" stroke-opacity="0.85"/>
<line x1="164.49" y1="90.59" x2="164.49" y2="93.42" stroke="#e42020" stroke-width="0.9" stroke-opacity="0.85"/>
<line x1="166.28" y1="90.51" x2="166.28" y2="93.71" stroke="#e42020" stroke-width="0.9" stroke-opacity="0.85"/>
<line x1="169.18" y1="90.37" x2="169.18" y2="88.66" stroke="#e42020" stroke-width="0.9" stroke-opacity="0.85"/>
<line x1="171.36" y1="90.27" x2="171.36" y2="88.51" stroke="#e42020" stroke-width="0.9" stroke-opacity="0.85"/>
<line x1="173.14" y1="90.19" x2="173.14" y2="91.34" stroke="#e42020" stroke-width="0.9" stroke-opacity="0.85"/>
<line x1="175.09" y1="90.09" x2="175.09" y2="87.37" stroke="#e42020" stroke-width="0.9" stroke-opacity="0.85"/>
<line x1="177.55" y1="89.92" x2="177.55" y2="91.53" stroke="#e42020" stroke-width="0.9" stroke-opacity="0.85"/>
<line x1="178.93" y1="89.82" x2="178.93" y2="92.50" stroke="#e42020" stroke-width="0.9" stroke-opacity="0.85"/>
<line x1="181.86" y1="89.61" x2="181.86" y2="92.30" stroke="#e42020" stroke-width="0.9" stroke-opacity="0.85"/>
<line x1="184.61" y1="89.42" x2="184.61" y2="87.29" stroke="#e42020" stroke-width="0.9" stroke-opacity="0.85"/>
<line x1="187.33" y1="89.22" x2="187.33" y2="91.72" stroke="#e42020" stroke-width="0.9" stroke-opacity="0.85"/>
<line x1="189.09" y1="89.10" x2="189.09" y2="91.75" stroke="#e42020" stroke-width="0.9" stroke-opacity="0.85"/>
</g>
<clipPath id="cn"><rect x="222.5" y="167.4" width="161.0" height="106.9"/></clipPath>
<g clip-path="url(#cn)">
<line x1="262.8" y1="247.57500000000002" x2="262.8" y2="243" stroke="#d4d4d4" stroke-width="1.2"/>
<line x1="264.6" y1="247.57500000000002" x2="264.6" y2="238" stroke="#d4d4d4" stroke-width="1.2"/>
<line x1="266.3" y1="247.57500000000002" x2="266.3" y2="232.5" stroke="#d4d4d4" stroke-width="1.2"/>
<line x1="268.5" y1="247.57500000000002" x2="268.5" y2="225" stroke="#d4d4d4" stroke-width="1.2"/>
<line x1="271.3" y1="247.57500000000002" x2="271.3" y2="216" stroke="#d4d4d4" stroke-width="1.2"/>
<line x1="273.9" y1="247.57500000000002" x2="273.9" y2="209" stroke="#d4d4d4" stroke-width="1.2"/>
<line x1="276.4" y1="247.57500000000002" x2="276.4" y2="192.5" stroke="#d4d4d4" stroke-width="1.2"/>
<line x1="279.6" y1="247.57500000000002" x2="279.6" y2="183.8" stroke="#d4d4d4" stroke-width="1.2"/>
<line x1="282.8" y1="247.57500000000002" x2="282.8" y2="177.8" stroke="#d4d4d4" stroke-width="1.2"/>
<line x1="285.9" y1="247.57500000000002" x2="285.9" y2="169.7" stroke="#d4d4d4" stroke-width="1.2"/>
<line x1="289.6" y1="247.57500000000002" x2="289.6" y2="150" stroke="#d4d4d4" stroke-width="1.2"/>
<line x1="294.2" y1="247.57500000000002" x2="294.2" y2="150" stroke="#d4d4d4" stroke-width="1.2"/>
<line x1="299" y1="247.57500000000002" x2="299" y2="150" stroke="#d4d4d4" stroke-width="1.2"/>
<line x1="305.6" y1="247.57500000000002" x2="305.6" y2="150" stroke="#d4d4d4" stroke-width="1.2"/>
<line x1="312.7" y1="247.57500000000002" x2="312.7" y2="150" stroke="#d4d4d4" stroke-width="1.2"/>
<line x1="320.7" y1="247.57500000000002" x2="320.7" y2="150" stroke="#d4d4d4" stroke-width="1.2"/>
<line x1="330.4" y1="247.57500000000002" x2="330.4" y2="150" stroke="#d4d4d4" stroke-width="1.2"/>
<line x1="331.8" y1="247.57500000000002" x2="331.8" y2="150" stroke="#d4d4d4" stroke-width="1.2"/>
<line x1="342.3" y1="247.57500000000002" x2="342.3" y2="150" stroke="#d4d4d4" stroke-width="1.2"/>
<line x1="343.8" y1="247.57500000000002" x2="343.8" y2="150" stroke="#d4d4d4" stroke-width="1.2"/>
<line x1="359.9" y1="247.57500000000002" x2="359.9" y2="150" stroke="#d4d4d4" stroke-width="1.2"/>
<line x1="377.6" y1="247.57500000000002" x2="377.6" y2="150" stroke="#d4d4d4" stroke-width="1.2"/>
<line x1="381.2" y1="247.57500000000002" x2="381.2" y2="150" stroke="#d4d4d4" stroke-width="1.2"/>
<path d="M224.6,247.57500000000002 L225.3,222 L226.2,190 L226.9,169 L227.9,169 L228.0,200 L227.8,236 L228.5,242 L229.2,236 L229.3,215 L230.2,204 L231.2,207 L232,220 L232.7,247.57500000000002 Z" fill="#d2d2d2"/>
<path d="M225.2,247.57500000000002 L226,239.5 L226.9,247.57500000000002 Z" fill="#e01010"/>
<path d="M233.3,247.57500000000002 L233.5,181 L234.2,180.5 L234.7,194 L235.6,247.57500000000002 Z" fill="#8ccc8c"/>
<path d="M233.7,247.57500000000002 L234.2,200 L234.8,201 L235.5,247.57500000000002 Z" fill="#3aa03a"/>
<path d="M233.3,247.57500000000002 L234.5,240 L235.6,232 L236.4,222 L237.2,207 L237.8,214 L238.4,205.5 L239,213 L239.6,225 L240.2,238 L240.6,245 L241.1,232 L241.7,214 L242.4,176 L242.9,206 L243.6,214 L244.3,204 L245,214 L245.8,212 L246.3,222 L247,232 L248,238 L249.3,243 L251,247.57500000000002 Z" fill="#e41010"/>
<path d="M249.80,247.58 L250.30,248.67 L251.00,248.59 L251.70,249.84 L252.40,248.84 L253.10,250.45 L253.80,250.35 L254.50,249.54 L255.20,251.81 L255.90,249.93 L256.60,252.23 L257.30,250.43 L258.00,250.64 L258.70,252.60 L259.40,254.81 L260.10,250.65 L260.80,250.96 L261.50,252.57 L262.20,253.39 L262.90,251.31 L263.60,250.22 L264.30,251.37 L265.00,248.66 L265.70,250.00 L266.40,248.71 L267.10,248.34 L267.80,248.19 L268.50,248.29 L269.00,247.58 Z" fill="#9a48a8" fill-opacity="0.75"/>
<line x1="222.5" y1="247.57500000000002" x2="383.5" y2="247.57500000000002" stroke="#d04050" stroke-width="0.8"/>
<line x1="272.2" y1="247.57500000000002" x2="272.2" y2="251.5" stroke="#555" stroke-width="0.9"/>
<line x1="277.5" y1="247.57500000000002" x2="277.5" y2="253.9" stroke="#806060" stroke-width="1.1"/>
<line x1="278.60" y1="247.57500000000002" x2="278.60" y2="246.30" stroke="#e42020" stroke-width="0.9" stroke-opacity="0.9"/>
<line x1="281.00" y1="247.57500000000002" x2="281.00" y2="245.30" stroke="#e42020" stroke-width="0.9" stroke-opacity="0.9"/>
<line x1="282.50" y1="247.57500000000002" x2="282.50" y2="246.00" stroke="#e42020" stroke-width="0.9" stroke-opacity="0.9"/>
<line x1="284.00" y1="247.57500000000002" x2="284.00" y2="244.30" stroke="#e42020" stroke-width="0.9" stroke-opacity="0.9"/>
<line x1="285.50" y1="247.57500000000002" x2="285.50" y2="245.50" stroke="#e42020" stroke-width="0.9" stroke-opacity="0.9"/>
<line x1="287.50" y1="247.57500000000002" x2="287.50" y2="243.30" stroke="#e42020" stroke-width="0.9" stroke-opacity="0.9"/>
<line x1="289.00" y1="247.57500000000002" x2="289.00" y2="245.00" stroke="#e42020" stroke-width="0.9" stroke-opacity="0.9"/>
<line x1="291.00" y1="247.57500000000002" x2="291.00" y2="243.30" stroke="#e42020" stroke-width="0.9" stroke-opacity="0.9"/>
<line x1="292.50" y1="247.57500000000002" x2="292.50" y2="244.50" stroke="#e42020" stroke-width="0.9" stroke-opacity="0.9"/>
<line x1="294.00" y1="247.57500000000002" x2="294.00" y2="242.50" stroke="#e42020" stroke-width="0.9" stroke-opacity="0.9"/>
<line x1="295.50" y1="247.57500000000002" x2="295.50" y2="244.00" stroke="#e42020" stroke-width="0.9" stroke-opacity="0.9"/>
<line x1="297.00" y1="247.57500000000002" x2="297.00" y2="240.70" stroke="#e42020" stroke-width="0.9" stroke-opacity="0.9"/>
<line x1="298.50" y1="247.57500000000002" x2="298.50" y2="243.00" stroke="#e42020" stroke-width="0.9" stroke-opacity="0.9"/>
<line x1="300.00" y1="247.57500000000002" x2="300.00" y2="240.00" stroke="#e42020" stroke-width="0.9" stroke-opacity="0.9"/>
<line x1="300.80" y1="247.57500000000002" x2="300.80" y2="241.70" stroke="#e42020" stroke-width="0.9" stroke-opacity="0.9"/>
<line x1="302.00" y1="247.57500000000002" x2="302.00" y2="240.00" stroke="#e42020" stroke-width="0.9" stroke-opacity="0.9"/>
<line x1="303.20" y1="247.57500000000002" x2="303.20" y2="236.60" stroke="#e42020" stroke-width="0.9" stroke-opacity="0.9"/>
<line x1="304.50" y1="247.57500000000002" x2="304.50" y2="243.00" stroke="#e42020" stroke-width="0.9" stroke-opacity="0.9"/>
<line x1="306.20" y1="247.57500000000002" x2="306.20" y2="236.40" stroke="#e42020" stroke-width="0.9" stroke-opacity="0.9"/>
<line x1="308.00" y1="247.57500000000002" x2="308.00" y2="241.00" stroke="#e42020" stroke-width="0.9" stroke-opacity="0.9"/>
<line x1="309.60" y1="247.57500000000002" x2="309.60" y2="244.00" stroke="#e42020" stroke-width="0.9" stroke-opacity="0.9"/>
<line x1="311.50" y1="247.57500000000002" x2="311.50" y2="239.60" stroke="#e42020" stroke-width="0.9" stroke-opacity="0.9"/>
<line x1="313.00" y1="247.57500000000002" x2="313.00" y2="244.00" stroke="#e42020" stroke-width="0.9" stroke-opacity="0.9"/>
<line x1="314.40" y1="247.57500000000002" x2="314.40" y2="238.00" stroke="#e42020" stroke-width="0.9" stroke-opacity="0.9"/>
<line x1="316.00" y1="247.57500000000002" x2="316.00" y2="240.00" stroke="#e42020" stroke-width="0.9" stroke-opacity="0.9"/>
<line x1="318.00" y1="247.57500000000002" x2="318.00" y2="244.00" stroke="#e42020" stroke-width="0.9" stroke-opacity="0.9"/>
<line x1="320.50" y1="247.57500000000002" x2="320.50" y2="239.00" stroke="#e42020" stroke-width="0.9" stroke-opacity="0.9"/>
<line x1="322.00" y1="247.57500000000002" x2="322.00" y2="245.00" stroke="#e42020" stroke-width="0.9" stroke-opacity="0.9"/>
<line x1="324.00" y1="247.57500000000002" x2="324.00" y2="244.00" stroke="#e42020" stroke-width="0.9" stroke-opacity="0.9"/>
<line x1="327.00" y1="247.57500000000002" x2="327.00" y2="238.40" stroke="#e42020" stroke-width="0.9" stroke-opacity="0.9"/>
<line x1="327.70" y1="247.57500000000002" x2="327.70" y2="238.70" stroke="#e42020" stroke-width="0.9" stroke-opacity="0.9"/>
<line x1="330.00" y1="247.57500000000002" x2="330.00" y2="245.00" stroke="#e42020" stroke-width="0.9" stroke-opacity="0.9"/>
<line x1="332.00" y1="247.57500000000002" x2="332.00" y2="244.00" stroke="#e42020" stroke-width="0.9" stroke-opacity="0.9"/>
<line x1="335.00" y1="247.57500000000002" x2="335.00" y2="241.00" stroke="#e42020" stroke-width="0.9" stroke-opacity="0.9"/>
<line x1="337.00" y1="247.57500000000002" x2="337.00" y2="245.00" stroke="#e42020" stroke-width="0.9" stroke-opacity="0.9"/>
<line x1="340.00" y1="247.57500000000002" x2="340.00" y2="245.00" stroke="#e42020" stroke-width="0.9" stroke-opacity="0.9"/>
<line x1="343.00" y1="247.57500000000002" x2="343.00" y2="244.50" stroke="#e42020" stroke-width="0.9" stroke-opacity="0.9"/>
<line x1="346.00" y1="247.57500000000002" x2="346.00" y2="245.00" stroke="#e42020" stroke-width="0.9" stroke-opacity="0.9"/>
<line x1="349.00" y1="247.57500000000002" x2="349.00" y2="245.00" stroke="#e42020" stroke-width="0.9" stroke-opacity="0.9"/>
<line x1="353.90" y1="247.57500000000002" x2="353.90" y2="239.80" stroke="#e42020" stroke-width="0.9" stroke-opacity="0.9"/>
<line x1="356.00" y1="247.57500000000002" x2="356.00" y2="245.50" stroke="#e42020" stroke-width="0.9" stroke-opacity="0.9"/>
<line x1="360.00" y1="247.57500000000002" x2="360.00" y2="245.50" stroke="#e42020" stroke-width="0.9" stroke-opacity="0.9"/>
<line x1="364.00" y1="247.57500000000002" x2="364.00" y2="245.00" stroke="#e42020" stroke-width="0.9" stroke-opacity="0.9"/>
<line x1="368.00" y1="247.57500000000002" x2="368.00" y2="245.00" stroke="#e42020" stroke-width="0.9" stroke-opacity="0.9"/>
<line x1="372.00" y1="247.57500000000002" x2="372.00" y2="245.50" stroke="#e42020" stroke-width="0.9" stroke-opacity="0.9"/>
<line x1="376.00" y1="247.57500000000002" x2="376.00" y2="245.00" stroke="#e42020" stroke-width="0.9" stroke-opacity="0.9"/>
<line x1="381.40" y1="247.57500000000002" x2="381.40" y2="243.80" stroke="#e42020" stroke-width="0.9" stroke-opacity="0.9"/>
<line x1="309.60" y1="247.57500000000002" x2="309.60" y2="249.70" stroke="#e42020" stroke-width="0.9" stroke-opacity="0.9"/>
<line x1="314.40" y1="247.57500000000002" x2="314.40" y2="250.20" stroke="#e42020" stroke-width="0.9" stroke-opacity="0.9"/>
<line x1="322.00" y1="247.57500000000002" x2="322.00" y2="250.70" stroke="#e42020" stroke-width="0.9" stroke-opacity="0.9"/>
<line x1="324.00" y1="247.57500000000002" x2="324.00" y2="252.30" stroke="#e42020" stroke-width="0.9" stroke-opacity="0.9"/>
<line x1="328.70" y1="247.57500000000002" x2="328.70" y2="252.30" stroke="#e42020" stroke-width="0.9" stroke-opacity="0.9"/>
<line x1="333.00" y1="247.57500000000002" x2="333.00" y2="255.20" stroke="#e42020" stroke-width="0.9" stroke-opacity="0.9"/>
<line x1="336.00" y1="247.57500000000002" x2="336.00" y2="250.00" stroke="#e42020" stroke-width="0.9" stroke-opacity="0.9"/>
<line x1="340.40" y1="247.57500000000002" x2="340.40" y2="258.60" stroke="#e42020" stroke-width="0.9" stroke-opacity="0.9"/>
<line x1="345.00" y1="247.57500000000002" x2="345.00" y2="256.00" stroke="#e42020" stroke-width="0.9" stroke-opacity="0.9"/>
<line x1="349.00" y1="247.57500000000002" x2="349.00" y2="253.00" stroke="#e42020" stroke-width="0.9" stroke-opacity="0.9"/>
<line x1="353.90" y1="247.57500000000002" x2="353.90" y2="253.00" stroke="#e42020" stroke-width="0.9" stroke-opacity="0.9"/>
<line x1="357.00" y1="247.57500000000002" x2="357.00" y2="250.00" stroke="#e42020" stroke-width="0.9" stroke-opacity="0.9"/>
<line x1="360.60" y1="247.57500000000002" x2="360.60" y2="255.20" stroke="#e42020" stroke-width="0.9" stroke-opacity="0.9"/>
<line x1="364.60" y1="247.57500000000002" x2="364.60" y2="257.20" stroke="#e42020" stroke-width="0.9" stroke-opacity="0.9"/>
<line x1="367.70" y1="247.57500000000002" x2="367.70" y2="256.50" stroke="#e42020" stroke-width="0.9" stroke-opacity="0.9"/>
<line x1="370.00" y1="247.57500000000002" x2="370.00" y2="250.00" stroke="#e42020" stroke-width="0.9" stroke-opacity="0.9"/>
<line x1="373.30" y1="247.57500000000002" x2="373.30" y2="253.90" stroke="#e42020" stroke-width="0.9" stroke-opacity="0.9"/>
<line x1="378.00" y1="247.57500000000002" x2="378.00" y2="250.00" stroke="#e42020" stroke-width="0.9" stroke-opacity="0.9"/>
<rect x="278" y="246.28" width="106" height="1.3" fill="#e43030" fill-opacity="0.55"/>
</g>
<rect x="29.5" y="13.5" width="161.0" height="107.0" fill="none" stroke="#4c4c4c" stroke-width="1"/>
<line x1="42.21" y1="120.5" x2="42.21" y2="118.9" stroke="#4c4c4c" stroke-width="0.8"/>
<line x1="42.21" y1="13.5" x2="42.21" y2="15.1" stroke="#4c4c4c" stroke-width="0.8"/>
<line x1="63.39" y1="120.5" x2="63.39" y2="117.5" stroke="#4c4c4c" stroke-width="0.8"/>
<line x1="63.39" y1="13.5" x2="63.39" y2="16.5" stroke="#4c4c4c" stroke-width="0.8"/>
<line x1="84.58" y1="120.5" x2="84.58" y2="118.9" stroke="#4c4c4c" stroke-width="0.8"/>
<line x1="84.58" y1="13.5" x2="84.58" y2="15.1" stroke="#4c4c4c" stroke-width="0.8"/>
<line x1="105.76" y1="120.5" x2="105.76" y2="117.5" stroke="#4c4c4c" stroke-width="0.8"/>
<line x1="105.76" y1="13.5" x2="105.76" y2="16.5" stroke="#4c4c4c" stroke-width="0.8"/>
<line x1="126.95" y1="120.5" x2="126.95" y2="118.9" stroke="#4c4c4c" stroke-width="0.8"/>
<line x1="126.95" y1="13.5" x2="126.95" y2="15.1" stroke="#4c4c4c" stroke-width="0.8"/>
<line x1="148.13" y1="120.5" x2="148.13" y2="117.5" stroke="#4c4c4c" stroke-width="0.8"/>
<line x1="148.13" y1="13.5" x2="148.13" y2="16.5" stroke="#4c4c4c" stroke-width="0.8"/>
<line x1="169.32" y1="120.5" x2="169.32" y2="118.9" stroke="#4c4c4c" stroke-width="0.8"/>
<line x1="169.32" y1="13.5" x2="169.32" y2="15.1" stroke="#4c4c4c" stroke-width="0.8"/>
<line x1="190.50" y1="120.5" x2="190.50" y2="117.5" stroke="#4c4c4c" stroke-width="0.8"/>
<line x1="190.50" y1="13.5" x2="190.50" y2="16.5" stroke="#4c4c4c" stroke-width="0.8"/>
<rect x="222.5" y="13.5" width="161.0" height="107.0" fill="none" stroke="#4c4c4c" stroke-width="1"/>
<line x1="235.21" y1="120.5" x2="235.21" y2="118.9" stroke="#4c4c4c" stroke-width="0.8"/>
<line x1="235.21" y1="13.5" x2="235.21" y2="15.1" stroke="#4c4c4c" stroke-width="0.8"/>
<line x1="256.39" y1="120.5" x2="256.39" y2="117.5" stroke="#4c4c4c" stroke-width="0.8"/>
<line x1="256.39" y1="13.5" x2="256.39" y2="16.5" stroke="#4c4c4c" stroke-width="0.8"/>
<line x1="277.58" y1="120.5" x2="277.58" y2="118.9" stroke="#4c4c4c" stroke-width="0.8"/>
<line x1="277.58" y1="13.5" x2="277.58" y2="15.1" stroke="#4c4c4c" stroke-width="0.8"/>
<line x1="298.76" y1="120.5" x2="298.76" y2="117.5" stroke="#4c4c4c" stroke-width="0.8"/>
<line x1="298.76" y1="13.5" x2="298.76" y2="16.5" stroke="#4c4c4c" stroke-width="0.8"/>
<line x1="319.95" y1="120.5" x2="319.95" y2="118.9" stroke="#4c4c4c" stroke-width="0.8"/>
<line x1="319.95" y1="13.5" x2="319.95" y2="15.1" stroke="#4c4c4c" stroke-width="0.8"/>
<line x1="341.13" y1="120.5" x2="341.13" y2="117.5" stroke="#4c4c4c" stroke-width="0.8"/>
<line x1="341.13" y1="13.5" x2="341.13" y2="16.5" stroke="#4c4c4c" stroke-width="0.8"/>
<line x1="362.32" y1="120.5" x2="362.32" y2="118.9" stroke="#4c4c4c" stroke-width="0.8"/>
<line x1="362.32" y1="13.5" x2="362.32" y2="15.1" stroke="#4c4c4c" stroke-width="0.8"/>
<line x1="383.50" y1="120.5" x2="383.50" y2="117.5" stroke="#4c4c4c" stroke-width="0.8"/>
<line x1="383.50" y1="13.5" x2="383.50" y2="16.5" stroke="#4c4c4c" stroke-width="0.8"/>
<rect x="29.5" y="166.9" width="161.0" height="107.20000000000002" fill="none" stroke="#4c4c4c" stroke-width="1"/>
<line x1="42.21" y1="274.1" x2="42.21" y2="272.5" stroke="#4c4c4c" stroke-width="0.8"/>
<line x1="42.21" y1="166.9" x2="42.21" y2="168.5" stroke="#4c4c4c" stroke-width="0.8"/>
<line x1="63.39" y1="274.1" x2="63.39" y2="271.1" stroke="#4c4c4c" stroke-width="0.8"/>
<line x1="63.39" y1="166.9" x2="63.39" y2="169.9" stroke="#4c4c4c" stroke-width="0.8"/>
<line x1="84.58" y1="274.1" x2="84.58" y2="272.5" stroke="#4c4c4c" stroke-width="0.8"/>
<line x1="84.58" y1="166.9" x2="84.58" y2="168.5" stroke="#4c4c4c" stroke-width="0.8"/>
<line x1="105.76" y1="274.1" x2="105.76" y2="271.1" stroke="#4c4c4c" stroke-width="0.8"/>
<line x1="105.76" y1="166.9" x2="105.76" y2="169.9" stroke="#4c4c4c" stroke-width="0.8"/>
<line x1="126.95" y1="274.1" x2="126.95" y2="272.5" stroke="#4c4c4c" stroke-width="0.8"/>
<line x1="126.95" y1="166.9" x2="126.95" y2="168.5" stroke="#4c4c4c" stroke-width="0.8"/>
<line x1="148.13" y1="274.1" x2="148.13" y2="271.1" stroke="#4c4c4c" stroke-width="0.8"/>
<line x1="148.13" y1="166.9" x2="148.13" y2="169.9" stroke="#4c4c4c" stroke-width="0.8"/>
<line x1="169.32" y1="274.1" x2="169.32" y2="272.5" stroke="#4c4c4c" stroke-width="0.8"/>
<line x1="169.32" y1="166.9" x2="169.32" y2="168.5" stroke="#4c4c4c" stroke-width="0.8"/>
<line x1="190.50" y1="274.1" x2="190.50" y2="271.1" stroke="#4c4c4c" stroke-width="0.8"/>
<line x1="190.50" y1="166.9" x2="190.50" y2="169.9" stroke="#4c4c4c" stroke-width="0.8"/>
<rect x="222.5" y="167.4" width="161.0" height="106.9" fill="none" stroke="#4c4c4c" stroke-width="1"/>
<line x1="235.21" y1="274.3" x2="235.21" y2="272.7" stroke="#4c4c4c" stroke-width="0.8"/>
<line x1="235.21" y1="167.4" x2="235.21" y2="169.0" stroke="#4c4c4c" stroke-width="0.8"/>
<line x1="256.39" y1="274.3" x2="256.39" y2="271.3" stroke="#4c4c4c" stroke-width="0.8"/>
<line x1="256.39" y1="167.4" x2="256.39" y2="170.4" stroke="#4c4c4c" stroke-width="0.8"/>
<line x1="277.58" y1="274.3" x2="277.58" y2="272.7" stroke="#4c4c4c" stroke-width="0.8"/>
<line x1="277.58" y1="167.4" x2="277.58" y2="169.0" stroke="#4c4c4c" stroke-width="0.8"/>
<line x1="298.76" y1="274.3" x2="298.76" y2="271.3" stroke="#4c4c4c" stroke-width="0.8"/>
<line x1="298.76" y1="167.4" x2="298.76" y2="170.4" stroke="#4c4c4c" stroke-width="0.8"/>
<line x1="319.95" y1="274.3" x2="319.95" y2="272.7" stroke="#4c4c4c" stroke-width="0.8"/>
<line x1="319.95" y1="167.4" x2="319.95" y2="169.0" stroke="#4c4c4c" stroke-width="0.8"/>
<line x1="341.13" y1="274.3" x2="341.13" y2="271.3" stroke="#4c4c4c" stroke-width="0.8"/>
<line x1="341.13" y1="167.4" x2="341.13" y2="170.4" stroke="#4c4c4c" stroke-width="0.8"/>
<line x1="362.32" y1="274.3" x2="362.32" y2="272.7" stroke="#4c4c4c" stroke-width="0.8"/>
<line x1="362.32" y1="167.4" x2="362.32" y2="169.0" stroke="#4c4c4c" stroke-width="0.8"/>
<line x1="383.50" y1="274.3" x2="383.50" y2="271.3" stroke="#4c4c4c" stroke-width="0.8"/>
<line x1="383.50" y1="167.4" x2="383.50" y2="170.4" stroke="#4c4c4c" stroke-width="0.8"/>
<line x1="29.5" y1="120.50" x2="32.5" y2="120.50" stroke="#4c4c4c" stroke-width="0.8"/>
<line x1="190.5" y1="120.50" x2="187.5" y2="120.50" stroke="#4c4c4c" stroke-width="0.8"/>
<line x1="29.5" y1="108.64" x2="31.1" y2="108.64" stroke="#4c4c4c" stroke-width="0.8"/>
<line x1="190.5" y1="108.64" x2="188.9" y2="108.64" stroke="#4c4c4c" stroke-width="0.8"/>
<line x1="29.5" y1="101.70" x2="31.1" y2="101.70" stroke="#4c4c4c" stroke-width="0.8"/>
<line x1="190.5" y1="101.70" x2="188.9" y2="101.70" stroke="#4c4c4c" stroke-width="0.8"/>
<line x1="29.5" y1="96.78" x2="31.1" y2="96.78" stroke="#4c4c4c" stroke-width="0.8"/>
<line x1="190.5" y1="96.78" x2="188.9" y2="96.78" stroke="#4c4c4c" stroke-width="0.8"/>
<line x1="29.5" y1="92.96" x2="31.1" y2="92.96" stroke="#4c4c4c" stroke-width="0.8"/>
<line x1="190.5" y1="92.96" x2="188.9" y2="92.96" stroke="#4c4c4c" stroke-width="0.8"/>
<line x1="29.5" y1="89.84" x2="31.1" y2="89.84" stroke="#4c4c4c" stroke-width="0.8"/>
<line x1="190.5" y1="89.84" x2="188.9" y2="89.84" stroke="#4c4c4c" stroke-width="0.8"/>
<line x1="29.5" y1="87.20" x2="31.1" y2="87.20" stroke="#4c4c4c" stroke-width="0.8"/>
<line x1="190.5" y1="87.20" x2="188.9" y2="87.20" stroke="#4c4c4c" stroke-width="0.8"/>
<line x1="29.5" y1="84.92" x2="31.1" y2="84.92" stroke="#4c4c4c" stroke-width="0.8"/>
<line x1="190.5" y1="84.92" x2="188.9" y2="84.92" stroke="#4c4c4c" stroke-width="0.8"/>
<line x1="29.5" y1="82.90" x2="31.1" y2="82.90" stroke="#4c4c4c" stroke-width="0.8"/>
<line x1="190.5" y1="82.90" x2="188.9" y2="82.90" stroke="#4c4c4c" stroke-width="0.8"/>
<line x1="29.5" y1="81.10" x2="32.5" y2="81.10" stroke="#4c4c4c" stroke-width="0.8"/>
<line x1="190.5" y1="81.10" x2="187.5" y2="81.10" stroke="#4c4c4c" stroke-width="0.8"/>
<line x1="29.5" y1="69.24" x2="31.1" y2="69.24" stroke="#4c4c4c" stroke-width="0.8"/>
<line x1="190.5" y1="69.24" x2="188.9" y2="69.24" stroke="#4c4c4c" stroke-width="0.8"/>
<line x1="29.5" y1="62.30" x2="31.1" y2="62.30" stroke="#4c4c4c" stroke-width="0.8"/>
<line x1="190.5" y1="62.30" x2="188.9" y2="62.30" stroke="#4c4c4c" stroke-width="0.8"/>
<line x1="29.5" y1="57.38" x2="31.1" y2="57.38" stroke="#4c4c4c" stroke-width="0.8"/>
<line x1="190.5" y1="57.38" x2="188.9" y2="57.38" stroke="#4c4c4c" stroke-width="0.8"/>
<line x1="29.5" y1="53.56" x2="31.1" y2="53.56" stroke="#4c4c4c" stroke-width="0.8"/>
<line x1="190.5" y1="53.56" x2="188.9" y2="53.56" stroke="#4c4c4c" stroke-width="0.8"/>
<line x1="29.5" y1="50.44" x2="31.1" y2="50.44" stroke="#4c4c4c" stroke-width="0.8"/>
<line x1="190.5" y1="50.44" x2="188.9" y2="50.44" stroke="#4c4c4c" stroke-width="0.8"/>
<line x1="29.5" y1="47.80" x2="31.1" y2="47.80" stroke="#4c4c4c" stroke-width="0.8"/>
<line x1="190.5" y1="47.80" x2="188.9" y2="47.80" stroke="#4c4c4c" stroke-width="0.8"/>
<line x1="29.5" y1="45.52" x2="31.1" y2="45.52" stroke="#4c4c4c" stroke-width="0.8"/>
<line x1="190.5" y1="45.52" x2="188.9" y2="45.52" stroke="#4c4c4c" stroke-width="0.8"/>
<line x1="29.5" y1="43.50" x2="31.1" y2="43.50" stroke="#4c4c4c" stroke-width="0.8"/>
<line x1="190.5" y1="43.50" x2="188.9" y2="43.50" stroke="#4c4c4c" stroke-width="0.8"/>
<line x1="29.5" y1="41.70" x2="32.5" y2="41.70" stroke="#4c4c4c" stroke-width="0.8"/>
<line x1="190.5" y1="41.70" x2="187.5" y2="41.70" stroke="#4c4c4c" stroke-width="0.8"/>
<line x1="29.5" y1="29.84" x2="31.1" y2="29.84" stroke="#4c4c4c" stroke-width="0.8"/>
<line x1="190.5" y1="29.84" x2="188.9" y2="29.84" stroke="#4c4c4c" stroke-width="0.8"/>
<line x1="29.5" y1="22.90" x2="31.1" y2="22.90" stroke="#4c4c4c" stroke-width="0.8"/>
<line x1="190.5" y1="22.90" x2="188.9" y2="22.90" stroke="#4c4c4c" stroke-width="0.8"/>
<line x1="29.5" y1="17.98" x2="31.1" y2="17.98" stroke="#4c4c4c" stroke-width="0.8"/>
<line x1="190.5" y1="17.98" x2="188.9" y2="17.98" stroke="#4c4c4c" stroke-width="0.8"/>
<line x1="29.5" y1="14.16" x2="31.1" y2="14.16" stroke="#4c4c4c" stroke-width="0.8"/>
<line x1="190.5" y1="14.16" x2="188.9" y2="14.16" stroke="#4c4c4c" stroke-width="0.8"/>
<text transform="translate(22.20,123.10) scale(0.8,1)" font-size="7.6" text-anchor="end">10</text>
<text transform="translate(22.30,120.20) scale(0.9,1)" font-size="5.2" text-anchor="start">−5</text>
<text transform="translate(22.20,83.70) scale(0.8,1)" font-size="7.6" text-anchor="end">10</text>
<text transform="translate(22.30,80.80) scale(0.9,1)" font-size="5.2" text-anchor="start">−4</text>
<text transform="translate(22.20,44.30) scale(0.8,1)" font-size="7.6" text-anchor="end">10</text>
<text transform="translate(22.30,41.40) scale(0.9,1)" font-size="5.2" text-anchor="start">−3</text>
<text transform="translate(9.70,74.00) rotate(-90)" x="0" y="0" font-size="8.2" text-anchor="middle">νL<tspan font-size="5.8" dy="1.7">ν</tspan><tspan dy="-1.7" font-size="8.2"> [erg s</tspan><tspan font-size="5.8" dy="-2.9">-1</tspan><tspan dy="2.9" font-size="8.2">]</tspan></text>
<line x1="222.5" y1="120.50" x2="225.5" y2="120.50" stroke="#4c4c4c" stroke-width="0.8"/>
<line x1="383.5" y1="120.50" x2="380.5" y2="120.50" stroke="#4c4c4c" stroke-width="0.8"/>
<line x1="222.5" y1="108.64" x2="224.1" y2="108.64" stroke="#4c4c4c" stroke-width="0.8"/>
<line x1="383.5" y1="108.64" x2="381.9" y2="108.64" stroke="#4c4c4c" stroke-width="0.8"/>
<line x1="222.5" y1="101.70" x2="224.1" y2="101.70" stroke="#4c4c4c" stroke-width="0.8"/>
<line x1="383.5" y1="101.70" x2="381.9" y2="101.70" stroke="#4c4c4c" stroke-width="0.8"/>
<line x1="222.5" y1="96.78" x2="224.1" y2="96.78" stroke="#4c4c4c" stroke-width="0.8"/>
<line x1="383.5" y1="96.78" x2="381.9" y2="96.78" stroke="#4c4c4c" stroke-width="0.8"/>
<line x1="222.5" y1="92.96" x2="224.1" y2="92.96" stroke="#4c4c4c" stroke-width="0.8"/>
<line x1="383.5" y1="92.96" x2="381.9" y2="92.96" stroke="#4c4c4c" stroke-width="0.8"/>
<line x1="222.5" y1="89.84" x2="224.1" y2="89.84" stroke="#4c4c4c" stroke-width="0.8"/>
<line x1="383.5" y1="89.84" x2="381.9" y2="89.84" stroke="#4c4c4c" stroke-width="0.8"/>
<line x1="222.5" y1="87.20" x2="224.1" y2="87.20" stroke="#4c4c4c" stroke-width="0.8"/>
<line x1="383.5" y1="87.20" x2="381.9" y2="87.20" stroke="#4c4c4c" stroke-width="0.8"/>
<line x1="222.5" y1="84.92" x2="224.1" y2="84.92" stroke="#4c4c4c" stroke-width="0.8"/>
<line x1="383.5" y1="84.92" x2="381.9" y2="84.92" stroke="#4c4c4c" stroke-width="0.8"/>
<line x1="222.5" y1="82.90" x2="224.1" y2="82.90" stroke="#4c4c4c" stroke-width="0.8"/>
<line x1="383.5" y1="82.90" x2="381.9" y2="82.90" stroke="#4c4c4c" stroke-width="0.8"/>
<line x1="222.5" y1="81.10" x2="225.5" y2="81.10" stroke="#4c4c4c" stroke-width="0.8"/>
<line x1="383.5" y1="81.10" x2="380.5" y2="81.10" stroke="#4c4c4c" stroke-width="0.8"/>
<line x1="222.5" y1="69.24" x2="224.1" y2="69.24" stroke="#4c4c4c" stroke-width="0.8"/>
<line x1="383.5" y1="69.24" x2="381.9" y2="69.24" stroke="#4c4c4c" stroke-width="0.8"/>
<line x1="222.5" y1="62.30" x2="224.1" y2="62.30" stroke="#4c4c4c" stroke-width="0.8"/>
<line x1="383.5" y1="62.30" x2="381.9" y2="62.30" stroke="#4c4c4c" stroke-width="0.8"/>
<line x1="222.5" y1="57.38" x2="224.1" y2="57.38" stroke="#4c4c4c" stroke-width="0.8"/>
<line x1="383.5" y1="57.38" x2="381.9" y2="57.38" stroke="#4c4c4c" stroke-width="0.8"/>
<line x1="222.5" y1="53.56" x2="224.1" y2="53.56" stroke="#4c4c4c" stroke-width="0.8"/>
<line x1="383.5" y1="53.56" x2="381.9" y2="53.56" stroke="#4c4c4c" stroke-width="0.8"/>
<line x1="222.5" y1="50.44" x2="224.1" y2="50.44" stroke="#4c4c4c" stroke-width="0.8"/>
<line x1="383.5" y1="50.44" x2="381.9" y2="50.44" stroke="#4c4c4c" stroke-width="0.8"/>
<line x1="222.5" y1="47.80" x2="224.1" y2="47.80" stroke="#4c4c4c" stroke-width="0.8"/>
<line x1="383.5" y1="47.80" x2="381.9" y2="47.80" stroke="#4c4c4c" stroke-width="0.8"/>
<line x1="222.5" y1="45.52" x2="224.1" y2="45.52" stroke="#4c4c4c" stroke-width="0.8"/>
<line x1="383.5" y1="45.52" x2="381.9" y2="45.52" stroke="#4c4c4c" stroke-width="0.8"/>
<line x1="222.5" y1="43.50" x2="224.1" y2="43.50" stroke="#4c4c4c" stroke-width="0.8"/>
<line x1="383.5" y1="43.50" x2="381.9" y2="43.50" stroke="#4c4c4c" stroke-width="0.8"/>
<line x1="222.5" y1="41.70" x2="225.5" y2="41.70" stroke="#4c4c4c" stroke-width="0.8"/>
<line x1="383.5" y1="41.70" x2="380.5" y2="41.70" stroke="#4c4c4c" stroke-width="0.8"/>
<line x1="222.5" y1="29.84" x2="224.1" y2="29.84" stroke="#4c4c4c" stroke-width="0.8"/>
<line x1="383.5" y1="29.84" x2="381.9" y2="29.84" stroke="#4c4c4c" stroke-width="0.8"/>
<line x1="222.5" y1="22.90" x2="224.1" y2="22.90" stroke="#4c4c4c" stroke-width="0.8"/>
<line x1="383.5" y1="22.90" x2="381.9" y2="22.90" stroke="#4c4c4c" stroke-width="0.8"/>
<line x1="222.5" y1="17.98" x2="224.1" y2="17.98" stroke="#4c4c4c" stroke-width="0.8"/>
<line x1="383.5" y1="17.98" x2="381.9" y2="17.98" stroke="#4c4c4c" stroke-width="0.8"/>
<line x1="222.5" y1="14.16" x2="224.1" y2="14.16" stroke="#4c4c4c" stroke-width="0.8"/>
<line x1="383.5" y1="14.16" x2="381.9" y2="14.16" stroke="#4c4c4c" stroke-width="0.8"/>
<text transform="translate(215.20,123.10) scale(0.8,1)" font-size="7.6" text-anchor="end">10</text>
<text transform="translate(215.30,120.20) scale(0.9,1)" font-size="5.2" text-anchor="start">−5</text>
<text transform="translate(215.20,83.70) scale(0.8,1)" font-size="7.6" text-anchor="end">10</text>
<text transform="translate(215.30,80.80) scale(0.9,1)" font-size="5.2" text-anchor="start">−4</text>
<text transform="translate(215.20,44.30) scale(0.8,1)" font-size="7.6" text-anchor="end">10</text>
<text transform="translate(215.30,41.40) scale(0.9,1)" font-size="5.2" text-anchor="start">−3</text>
<text transform="translate(205.50,74.00) rotate(-90)" x="0" y="0" font-size="8.2" text-anchor="middle">νL<tspan font-size="5.8" dy="1.7">ν</tspan><tspan dy="-1.7" font-size="8.2"> [erg s</tspan><tspan font-size="5.8" dy="-2.9">-1</tspan><tspan dy="2.9" font-size="8.2">]</tspan></text>
<line x1="29.5" y1="274.10" x2="32.5" y2="274.10" stroke="#4c4c4c" stroke-width="0.8"/>
<line x1="190.5" y1="274.10" x2="187.5" y2="274.10" stroke="#4c4c4c" stroke-width="0.8"/>
<line x1="29.5" y1="262.24" x2="31.1" y2="262.24" stroke="#4c4c4c" stroke-width="0.8"/>
<line x1="190.5" y1="262.24" x2="188.9" y2="262.24" stroke="#4c4c4c" stroke-width="0.8"/>
<line x1="29.5" y1="255.30" x2="31.1" y2="255.30" stroke="#4c4c4c" stroke-width="0.8"/>
<line x1="190.5" y1="255.30" x2="188.9" y2="255.30" stroke="#4c4c4c" stroke-width="0.8"/>
<line x1="29.5" y1="250.38" x2="31.1" y2="250.38" stroke="#4c4c4c" stroke-width="0.8"/>
<line x1="190.5" y1="250.38" x2="188.9" y2="250.38" stroke="#4c4c4c" stroke-width="0.8"/>
<line x1="29.5" y1="246.56" x2="31.1" y2="246.56" stroke="#4c4c4c" stroke-width="0.8"/>
<line x1="190.5" y1="246.56" x2="188.9" y2="246.56" stroke="#4c4c4c" stroke-width="0.8"/>
<line x1="29.5" y1="243.44" x2="31.1" y2="243.44" stroke="#4c4c4c" stroke-width="0.8"/>
<line x1="190.5" y1="243.44" x2="188.9" y2="243.44" stroke="#4c4c4c" stroke-width="0.8"/>
<line x1="29.5" y1="240.80" x2="31.1" y2="240.80" stroke="#4c4c4c" stroke-width="0.8"/>
<line x1="190.5" y1="240.80" x2="188.9" y2="240.80" stroke="#4c4c4c" stroke-width="0.8"/>
<line x1="29.5" y1="238.52" x2="31.1" y2="238.52" stroke="#4c4c4c" stroke-width="0.8"/>
<line x1="190.5" y1="238.52" x2="188.9" y2="238.52" stroke="#4c4c4c" stroke-width="0.8"/>
<line x1="29.5" y1="236.50" x2="31.1" y2="236.50" stroke="#4c4c4c" stroke-width="0.8"/>
<line x1="190.5" y1="236.50" x2="188.9" y2="236.50" stroke="#4c4c4c" stroke-width="0.8"/>
<line x1="29.5" y1="234.70" x2="32.5" y2="234.70" stroke="#4c4c4c" stroke-width="0.8"/>
<line x1="190.5" y1="234.70" x2="187.5" y2="234.70" stroke="#4c4c4c" stroke-width="0.8"/>
<line x1="29.5" y1="222.84" x2="31.1" y2="222.84" stroke="#4c4c4c" stroke-width="0.8"/>
<line x1="190.5" y1="222.84" x2="188.9" y2="222.84" stroke="#4c4c4c" stroke-width="0.8"/>
<line x1="29.5" y1="215.90" x2="31.1" y2="215.90" stroke="#4c4c4c" stroke-width="0.8"/>
<line x1="190.5" y1="215.90" x2="188.9" y2="215.90" stroke="#4c4c4c" stroke-width="0.8"/>
<line x1="29.5" y1="210.98" x2="31.1" y2="210.98" stroke="#4c4c4c" stroke-width="0.8"/>
<line x1="190.5" y1="210.98" x2="188.9" y2="210.98" stroke="#4c4c4c" stroke-width="0.8"/>
<line x1="29.5" y1="207.16" x2="31.1" y2="207.16" stroke="#4c4c4c" stroke-width="0.8"/>
<line x1="190.5" y1="207.16" x2="188.9" y2="207.16" stroke="#4c4c4c" stroke-width="0.8"/>
<line x1="29.5" y1="204.04" x2="31.1" y2="204.04" stroke="#4c4c4c" stroke-width="0.8"/>
<line x1="190.5" y1="204.04" x2="188.9" y2="204.04" stroke="#4c4c4c" stroke-width="0.8"/>
<line x1="29.5" y1="201.40" x2="31.1" y2="201.40" stroke="#4c4c4c" stroke-width="0.8"/>
<line x1="190.5" y1="201.40" x2="188.9" y2="201.40" stroke="#4c4c4c" stroke-width="0.8"/>
<line x1="29.5" y1="199.12" x2="31.1" y2="199.12" stroke="#4c4c4c" stroke-width="0.8"/>
<line x1="190.5" y1="199.12" x2="188.9" y2="199.12" stroke="#4c4c4c" stroke-width="0.8"/>
<line x1="29.5" y1="197.10" x2="31.1" y2="197.10" stroke="#4c4c4c" stroke-width="0.8"/>
<line x1="190.5" y1="197.10" x2="188.9" y2="197.10" stroke="#4c4c4c" stroke-width="0.8"/>
<line x1="29.5" y1="195.30" x2="32.5" y2="195.30" stroke="#4c4c4c" stroke-width="0.8"/>
<line x1="190.5" y1="195.30" x2="187.5" y2="195.30" stroke="#4c4c4c" stroke-width="0.8"/>
<line x1="29.5" y1="183.44" x2="31.1" y2="183.44" stroke="#4c4c4c" stroke-width="0.8"/>
<line x1="190.5" y1="183.44" x2="188.9" y2="183.44" stroke="#4c4c4c" stroke-width="0.8"/>
<line x1="29.5" y1="176.50" x2="31.1" y2="176.50" stroke="#4c4c4c" stroke-width="0.8"/>
<line x1="190.5" y1="176.50" x2="188.9" y2="176.50" stroke="#4c4c4c" stroke-width="0.8"/>
<line x1="29.5" y1="171.58" x2="31.1" y2="171.58" stroke="#4c4c4c" stroke-width="0.8"/>
<line x1="190.5" y1="171.58" x2="188.9" y2="171.58" stroke="#4c4c4c" stroke-width="0.8"/>
<line x1="29.5" y1="167.76" x2="31.1" y2="167.76" stroke="#4c4c4c" stroke-width="0.8"/>
<line x1="190.5" y1="167.76" x2="188.9" y2="167.76" stroke="#4c4c4c" stroke-width="0.8"/>
<text transform="translate(22.20,276.70) scale(0.8,1)" font-size="7.6" text-anchor="end">10</text>
<text transform="translate(22.30,273.80) scale(0.9,1)" font-size="5.2" text-anchor="start">−5</text>
<text transform="translate(22.20,237.30) scale(0.8,1)" font-size="7.6" text-anchor="end">10</text>
<text transform="translate(22.30,234.40) scale(0.9,1)" font-size="5.2" text-anchor="start">−4</text>
<text transform="translate(22.20,197.90) scale(0.8,1)" font-size="7.6" text-anchor="end">10</text>
<text transform="translate(22.30,195.00) scale(0.9,1)" font-size="5.2" text-anchor="start">−3</text>
<text transform="translate(9.90,227.40) rotate(-90)" x="0" y="0" font-size="8.2" text-anchor="middle">νL<tspan font-size="5.8" dy="1.7">ν</tspan><tspan dy="-1.7" font-size="8.2"> [erg s</tspan><tspan font-size="5.8" dy="-2.9">-1</tspan><tspan dy="2.9" font-size="8.2">]</tspan></text>
<line x1="222.5" y1="274.30" x2="225.5" y2="274.30" stroke="#4c4c4c" stroke-width="0.8"/>
<line x1="383.5" y1="274.30" x2="380.5" y2="274.30" stroke="#4c4c4c" stroke-width="0.8"/>
<line x1="222.5" y1="260.94" x2="224.1" y2="260.94" stroke="#4c4c4c" stroke-width="0.8"/>
<line x1="383.5" y1="260.94" x2="381.9" y2="260.94" stroke="#4c4c4c" stroke-width="0.8"/>
<line x1="222.5" y1="247.58" x2="225.5" y2="247.58" stroke="#4c4c4c" stroke-width="0.8"/>
<line x1="383.5" y1="247.58" x2="380.5" y2="247.58" stroke="#4c4c4c" stroke-width="0.8"/>
<line x1="222.5" y1="234.21" x2="224.1" y2="234.21" stroke="#4c4c4c" stroke-width="0.8"/>
<line x1="383.5" y1="234.21" x2="381.9" y2="234.21" stroke="#4c4c4c" stroke-width="0.8"/>
<line x1="222.5" y1="220.85" x2="225.5" y2="220.85" stroke="#4c4c4c" stroke-width="0.8"/>
<line x1="383.5" y1="220.85" x2="380.5" y2="220.85" stroke="#4c4c4c" stroke-width="0.8"/>
<line x1="222.5" y1="207.49" x2="224.1" y2="207.49" stroke="#4c4c4c" stroke-width="0.8"/>
<line x1="383.5" y1="207.49" x2="381.9" y2="207.49" stroke="#4c4c4c" stroke-width="0.8"/>
<line x1="222.5" y1="194.12" x2="225.5" y2="194.12" stroke="#4c4c4c" stroke-width="0.8"/>
<line x1="383.5" y1="194.12" x2="380.5" y2="194.12" stroke="#4c4c4c" stroke-width="0.8"/>
<line x1="222.5" y1="180.76" x2="224.1" y2="180.76" stroke="#4c4c4c" stroke-width="0.8"/>
<line x1="383.5" y1="180.76" x2="381.9" y2="180.76" stroke="#4c4c4c" stroke-width="0.8"/>
<line x1="222.5" y1="167.40" x2="225.5" y2="167.40" stroke="#4c4c4c" stroke-width="0.8"/>
<line x1="383.5" y1="167.40" x2="380.5" y2="167.40" stroke="#4c4c4c" stroke-width="0.8"/>
<text transform="translate(63.39,127.50) scale(0.9,1)" font-size="7.3" text-anchor="middle">10</text>
<text transform="translate(105.76,127.50) scale(0.9,1)" font-size="7.3" text-anchor="middle">20</text>
<text transform="translate(148.13,127.50) scale(0.9,1)" font-size="7.3" text-anchor="middle">30</text>
<text transform="translate(190.50,127.50) scale(0.9,1)" font-size="7.3" text-anchor="middle">40</text>
<text x="110.50" y="143.00" font-size="7.4" text-anchor="middle" >λ [μm]</text>
<text transform="translate(256.39,127.50) scale(0.9,1)" font-size="7.3" text-anchor="middle">10</text>
<text transform="translate(298.76,127.50) scale(0.9,1)" font-size="7.3" text-anchor="middle">20</text>
<text transform="translate(341.13,127.50) scale(0.9,1)" font-size="7.3" text-anchor="middle">30</text>
<text transform="translate(383.50,127.50) scale(0.9,1)" font-size="7.3" text-anchor="middle">40</text>
<text x="303.50" y="143.00" font-size="7.4" text-anchor="middle" >λ [μm]</text>
<text transform="translate(63.39,281.10) scale(0.9,1)" font-size="7.3" text-anchor="middle">10</text>
<text transform="translate(105.76,281.10) scale(0.9,1)" font-size="7.3" text-anchor="middle">20</text>
<text transform="translate(148.13,281.10) scale(0.9,1)" font-size="7.3" text-anchor="middle">30</text>
<text transform="translate(190.50,281.10) scale(0.9,1)" font-size="7.3" text-anchor="middle">40</text>
<text x="110.50" y="296.60" font-size="7.4" text-anchor="middle" >λ [μm]</text>
<text transform="translate(256.39,281.30) scale(0.9,1)" font-size="7.3" text-anchor="middle">10</text>
<text transform="translate(298.76,281.30) scale(0.9,1)" font-size="7.3" text-anchor="middle">20</text>
<text transform="translate(341.13,281.30) scale(0.9,1)" font-size="7.3" text-anchor="middle">30</text>
<text transform="translate(383.50,281.30) scale(0.9,1)" font-size="7.3" text-anchor="middle">40</text>
<text x="303.50" y="296.80" font-size="7.4" text-anchor="middle" >λ [μm]</text>
<text transform="translate(221.10,276.70) scale(0.8,1)" font-size="7.6" text-anchor="end">0.5</text>
<text transform="translate(221.10,249.98) scale(0.8,1)" font-size="7.6" text-anchor="end">1.0</text>
<text transform="translate(221.10,223.25) scale(0.8,1)" font-size="7.6" text-anchor="end">1.5</text>
<text transform="translate(221.10,196.53) scale(0.8,1)" font-size="7.6" text-anchor="end">2.0</text>
<text transform="translate(221.10,169.80) scale(0.8,1)" font-size="7.6" text-anchor="end">2.5</text>
<text transform="translate(208.00,221.80) rotate(-90)" font-size="7.4" text-anchor="middle">line intensity/continuum intensity</text>
<text x="110.00" y="7.60" font-size="7.5" text-anchor="middle" >Model A</text>
<text x="303.00" y="7.50" font-size="7.5" text-anchor="middle" >Model ACR</text>
<text x="110.00" y="160.20" font-size="7.5" text-anchor="middle" >Model MIX</text>
<text x="303.00" y="160.10" font-size="7.5" text-anchor="middle" >Model MIX, normalized by continuum</text>
<line x1="396" y1="10.20" x2="412" y2="10.20" stroke="#7a7a7a" stroke-width="1.05"/>
<text x="416.5" y="12.60" font-size="7.4">dust cont.</text>
<line x1="396" y1="20.40" x2="412" y2="20.40" stroke="#d4d4d4" stroke-width="1.05"/>
<text x="416.5" y="22.80" font-size="7.4">all mol.</text>
<line x1="396" y1="30.60" x2="412" y2="30.60" stroke="#8090cc" stroke-width="1.05"/>
<text x="416.5" y="33.00" font-size="7.4">OH</text>
<line x1="396" y1="40.80" x2="412" y2="40.80" stroke="#98d098" stroke-width="1.05"/>
<text x="416.5" y="43.20" font-size="7.4">CO</text>
<line x1="396" y1="51.00" x2="412" y2="51.00" stroke="#b89898" stroke-width="1.05"/>
<text x="416.5" y="53.40" font-size="7.4">CO<tspan font-size="5.8" dy="2">2</tspan><tspan dy="-2"></tspan></text>
<line x1="396" y1="61.20" x2="412" y2="61.20" stroke="#e08080" stroke-width="1.05"/>
<text x="416.5" y="63.60" font-size="7.4">H<tspan font-size="5.8" dy="2">2</tspan><tspan dy="-2">O</tspan></text>
<line x1="396" y1="163.70" x2="412" y2="163.70" stroke="#e4e4e4" stroke-width="1.05"/>
<text x="416.5" y="166.10" font-size="7.4">OH</text>
<line x1="396" y1="173.90" x2="412" y2="173.90" stroke="#a0d4a0" stroke-width="1.05"/>
<text x="416.5" y="176.30" font-size="7.4">CO</text>
<line x1="396" y1="184.10" x2="412" y2="184.10" stroke="#8e8e8e" stroke-width="1.05"/>
<text x="416.5" y="186.50" font-size="7.4">C<tspan font-size="5.8" dy="2">2</tspan><tspan dy="-2">H</tspan><tspan font-size="5.8" dy="2">2</tspan><tspan dy="-2"></tspan></text>
<line x1="396" y1="194.30" x2="412" y2="194.30" stroke="#987272" stroke-width="1.05"/>
<text x="416.5" y="196.70" font-size="7.4">CO<tspan font-size="5.8" dy="2">2</tspan><tspan dy="-2"></tspan></text>
<line x1="396" y1="204.50" x2="412" y2="204.50" stroke="#d47c7c" stroke-width="1.05"/>
<text x="416.5" y="206.90" font-size="7.4">H<tspan font-size="5.8" dy="2">2</tspan><tspan dy="-2">O</tspan></text>
<line x1="396" y1="214.70" x2="412" y2="214.70" stroke="#d8b4e0" stroke-width="1.05"/>
<text x="416.5" y="217.10" font-size="7.4">NH<tspan font-size="5.8" dy="2">3</tspan><tspan dy="-2"></tspan></text>
</svg></body></html>
